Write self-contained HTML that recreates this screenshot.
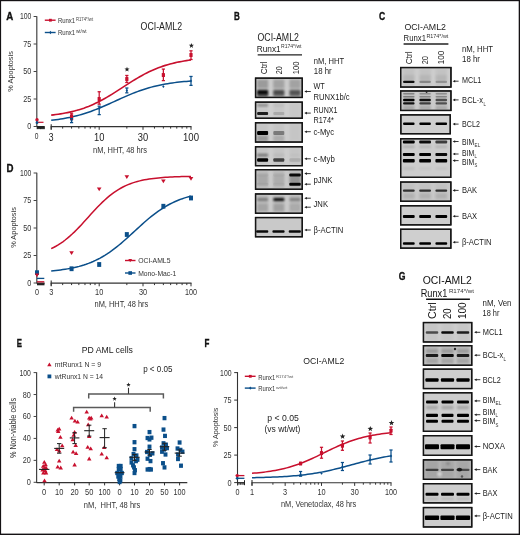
<!DOCTYPE html>
<html><head><meta charset="utf-8"><style>
html,body{margin:0;padding:0;background:#fff;}
svg{display:block;will-change:transform;}
text{font-family:"Liberation Sans", sans-serif;}
</style></head><body>
<svg width="520" height="535" viewBox="0 0 520 535">
<rect x="0" y="0" width="520" height="535" fill="#fff"/>
<defs><filter id="b03" x="-20%" y="-50%" width="140%" height="200%"><feGaussianBlur stdDeviation="0.35"/></filter><filter id="b05" x="-20%" y="-50%" width="140%" height="200%"><feGaussianBlur stdDeviation="0.5"/></filter><filter id="b08" x="-20%" y="-50%" width="140%" height="200%"><feGaussianBlur stdDeviation="0.8"/></filter><filter id="b12" x="-20%" y="-50%" width="140%" height="200%"><feGaussianBlur stdDeviation="1.2"/></filter><filter id="b20" x="-20%" y="-50%" width="140%" height="200%"><feGaussianBlur stdDeviation="2.0"/></filter></defs>
<text x="6.30" y="19.72" font-size="10.5" text-anchor="start" font-weight="bold" fill="#111" textLength="7.00" lengthAdjust="spacingAndGlyphs" stroke="#111" stroke-width="0.35">A</text>
<line x1="36.80" y1="16.20" x2="36.80" y2="126.90" stroke="#444" stroke-width="1.2"/>
<line x1="33.60" y1="126.50" x2="36.80" y2="126.50" stroke="#444" stroke-width="1"/>
<text x="31.40" y="129.47" font-size="8.6" text-anchor="end" font-weight="normal" fill="#333" textLength="4.10" lengthAdjust="spacingAndGlyphs">0</text>
<line x1="33.60" y1="99.00" x2="36.80" y2="99.00" stroke="#444" stroke-width="1"/>
<text x="31.40" y="101.97" font-size="8.6" text-anchor="end" font-weight="normal" fill="#333" textLength="8.10" lengthAdjust="spacingAndGlyphs">25</text>
<line x1="33.60" y1="71.50" x2="36.80" y2="71.50" stroke="#444" stroke-width="1"/>
<text x="31.40" y="74.47" font-size="8.6" text-anchor="end" font-weight="normal" fill="#333" textLength="8.10" lengthAdjust="spacingAndGlyphs">50</text>
<line x1="33.60" y1="44.00" x2="36.80" y2="44.00" stroke="#444" stroke-width="1"/>
<text x="31.40" y="46.97" font-size="8.6" text-anchor="end" font-weight="normal" fill="#333" textLength="8.10" lengthAdjust="spacingAndGlyphs">75</text>
<line x1="33.60" y1="16.50" x2="36.80" y2="16.50" stroke="#444" stroke-width="1"/>
<text x="31.40" y="19.47" font-size="8.6" text-anchor="end" font-weight="normal" fill="#333" textLength="11.50" lengthAdjust="spacingAndGlyphs">100</text>
<text x="10.60" y="73.95" font-size="7.4" text-anchor="middle" font-weight="normal" fill="#333" textLength="40.50" lengthAdjust="spacingAndGlyphs" transform="rotate(-90 10.60 71.40)">% Apoptosis</text>
<line x1="50.70" y1="126.60" x2="191.50" y2="126.60" stroke="#333" stroke-width="1.1"/>
<line x1="51.20" y1="126.60" x2="51.20" y2="129.80" stroke="#333" stroke-width="1"/>
<line x1="62.67" y1="126.60" x2="62.67" y2="128.60" stroke="#333" stroke-width="1"/>
<line x1="71.57" y1="126.60" x2="71.57" y2="128.60" stroke="#333" stroke-width="1"/>
<line x1="78.83" y1="126.60" x2="78.83" y2="128.60" stroke="#333" stroke-width="1"/>
<line x1="84.98" y1="126.60" x2="84.98" y2="128.60" stroke="#333" stroke-width="1"/>
<line x1="90.30" y1="126.60" x2="90.30" y2="128.60" stroke="#333" stroke-width="1"/>
<line x1="95.00" y1="126.60" x2="95.00" y2="128.60" stroke="#333" stroke-width="1"/>
<line x1="99.20" y1="126.60" x2="99.20" y2="129.80" stroke="#333" stroke-width="1"/>
<line x1="126.83" y1="126.60" x2="126.83" y2="128.60" stroke="#333" stroke-width="1"/>
<line x1="143.00" y1="126.60" x2="143.00" y2="129.80" stroke="#333" stroke-width="1"/>
<line x1="154.47" y1="126.60" x2="154.47" y2="128.60" stroke="#333" stroke-width="1"/>
<line x1="163.37" y1="126.60" x2="163.37" y2="128.60" stroke="#333" stroke-width="1"/>
<line x1="170.63" y1="126.60" x2="170.63" y2="128.60" stroke="#333" stroke-width="1"/>
<line x1="176.78" y1="126.60" x2="176.78" y2="128.60" stroke="#333" stroke-width="1"/>
<line x1="182.10" y1="126.60" x2="182.10" y2="128.60" stroke="#333" stroke-width="1"/>
<line x1="186.80" y1="126.60" x2="186.80" y2="128.60" stroke="#333" stroke-width="1"/>
<line x1="191.00" y1="126.60" x2="191.00" y2="129.80" stroke="#333" stroke-width="1"/>
<line x1="36.80" y1="126.60" x2="44.60" y2="126.60" stroke="#222" stroke-width="1.2"/>
<line x1="37.20" y1="126.60" x2="37.20" y2="129.20" stroke="#222" stroke-width="1"/>
<line x1="39.00" y1="126.60" x2="39.00" y2="129.20" stroke="#222" stroke-width="1"/>
<line x1="40.50" y1="126.60" x2="40.50" y2="129.20" stroke="#222" stroke-width="1"/>
<line x1="41.80" y1="126.60" x2="41.80" y2="129.20" stroke="#222" stroke-width="1"/>
<line x1="43.00" y1="126.60" x2="43.00" y2="129.20" stroke="#222" stroke-width="1"/>
<line x1="44.20" y1="126.60" x2="44.20" y2="129.20" stroke="#222" stroke-width="1"/>
<rect x="37.00" y="126.60" width="7.50" height="2.20" fill="#222"/>
<line x1="51.20" y1="124.20" x2="51.20" y2="129.50" stroke="#333" stroke-width="1.1"/>
<text x="36.70" y="139.17" font-size="8.6" text-anchor="middle" font-weight="normal" fill="#333" textLength="3.70" lengthAdjust="spacingAndGlyphs">0</text>
<text x="51.20" y="141.29" font-size="11.0" text-anchor="middle" font-weight="normal" fill="#222" textLength="4.80" lengthAdjust="spacingAndGlyphs">3</text>
<text x="99.20" y="141.29" font-size="11.0" text-anchor="middle" font-weight="normal" fill="#222" textLength="10.40" lengthAdjust="spacingAndGlyphs">10</text>
<text x="143.00" y="141.29" font-size="11.0" text-anchor="middle" font-weight="normal" fill="#222" textLength="10.40" lengthAdjust="spacingAndGlyphs">30</text>
<text x="191.00" y="141.29" font-size="11.0" text-anchor="middle" font-weight="normal" fill="#222" textLength="16.00" lengthAdjust="spacingAndGlyphs">100</text>
<text x="120.00" y="153.44" font-size="8.8" text-anchor="middle" font-weight="normal" fill="#333" textLength="54.00" lengthAdjust="spacingAndGlyphs">nM, HHT, 48 hrs</text>
<text x="161.30" y="29.85" font-size="10.3" text-anchor="middle" font-weight="normal" fill="#222" textLength="41.50" lengthAdjust="spacingAndGlyphs">OCI-AML2</text>
<line x1="44.80" y1="20.20" x2="55.60" y2="20.20" stroke="#c8102e" stroke-width="1.4"/>
<rect x="49.00" y="18.80" width="2.80" height="2.80" fill="#c8102e"/>
<text x="57.90" y="22.91" font-size="7.0" text-anchor="start" font-weight="normal" fill="#333" textLength="17.30" lengthAdjust="spacingAndGlyphs">Runx1</text>
<text x="75.90" y="20.65" font-size="4.5" text-anchor="start" font-weight="normal" fill="#444" textLength="17.20" lengthAdjust="spacingAndGlyphs">R174*/wt</text>
<line x1="44.80" y1="32.50" x2="55.60" y2="32.50" stroke="#0b4f8a" stroke-width="1.4"/>
<path d="M50.4,30.8 L51.6,32.5 L50.4,34.2 L49.2,32.5Z" fill="#0b4f8a"/>
<text x="57.90" y="35.12" font-size="7.0" text-anchor="start" font-weight="normal" fill="#333" textLength="17.30" lengthAdjust="spacingAndGlyphs">Runx1</text>
<text x="75.90" y="32.95" font-size="4.5" text-anchor="start" font-weight="normal" fill="#444" textLength="10.80" lengthAdjust="spacingAndGlyphs">wt/wt</text>
<path d="M51.20,115.16 L53.53,114.88 L55.86,114.58 L58.19,114.25 L60.52,113.90 L62.85,113.51 L65.18,113.08 L67.51,112.62 L69.84,112.12 L72.17,111.57 L74.50,110.98 L76.83,110.35 L79.16,109.66 L81.49,108.92 L83.82,108.14 L86.15,107.29 L88.48,106.39 L90.81,105.43 L93.14,104.41 L95.47,103.34 L97.80,102.21 L100.13,101.02 L102.46,99.78 L104.79,98.49 L107.12,97.15 L109.45,95.76 L111.78,94.34 L114.11,92.89 L116.44,91.41 L118.77,89.91 L121.10,88.40 L123.43,86.88 L125.76,85.37 L128.09,83.87 L130.42,82.38 L132.75,80.92 L135.08,79.48 L137.41,78.09 L139.74,76.73 L142.07,75.43 L144.40,74.17 L146.73,72.96 L149.06,71.81 L151.39,70.72 L153.72,69.69 L156.05,68.71 L158.38,67.79 L160.71,66.93 L163.04,66.12 L165.37,65.37 L167.70,64.67 L170.03,64.02 L172.36,63.41 L174.69,62.85 L177.02,62.34 L179.35,61.86 L181.68,61.43 L184.01,61.02 L186.34,60.66 L188.67,60.32 L191.00,60.01" stroke="#c8102e" stroke-width="1.6" fill="none"/>
<path d="M51.20,120.32 L53.53,120.05 L55.86,119.75 L58.19,119.43 L60.52,119.08 L62.85,118.71 L65.18,118.30 L67.51,117.86 L69.84,117.39 L72.17,116.88 L74.50,116.33 L76.83,115.75 L79.16,115.13 L81.49,114.47 L83.82,113.77 L86.15,113.03 L88.48,112.25 L90.81,111.43 L93.14,110.57 L95.47,109.67 L97.80,108.75 L100.13,107.79 L102.46,106.80 L104.79,105.79 L107.12,104.76 L109.45,103.71 L111.78,102.65 L114.11,101.58 L116.44,100.51 L118.77,99.45 L121.10,98.39 L123.43,97.35 L125.76,96.32 L128.09,95.32 L130.42,94.34 L132.75,93.39 L135.08,92.48 L137.41,91.60 L139.74,90.76 L142.07,89.95 L144.40,89.19 L146.73,88.46 L149.06,87.77 L151.39,87.13 L153.72,86.52 L156.05,85.95 L158.38,85.42 L160.71,84.93 L163.04,84.47 L165.37,84.04 L167.70,83.65 L170.03,83.28 L172.36,82.94 L174.69,82.63 L177.02,82.34 L179.35,82.08 L181.68,81.84 L184.01,81.61 L186.34,81.41 L188.67,81.22 L191.00,81.05" stroke="#0b4f8a" stroke-width="1.5" fill="none"/>
<line x1="71.57" y1="113.19" x2="71.57" y2="119.46" stroke="#c8102e" stroke-width="1.25"/>
<line x1="69.97" y1="113.19" x2="73.17" y2="113.19" stroke="#c8102e" stroke-width="1.25"/>
<line x1="69.97" y1="119.46" x2="73.17" y2="119.46" stroke="#c8102e" stroke-width="1.25"/>
<rect x="69.97" y="114.27" width="3.2" height="4.0" rx="0.6" fill="#c8102e"/>
<line x1="99.20" y1="91.74" x2="99.20" y2="104.17" stroke="#c8102e" stroke-width="1.25"/>
<line x1="97.60" y1="91.74" x2="100.80" y2="91.74" stroke="#c8102e" stroke-width="1.25"/>
<line x1="97.60" y1="104.17" x2="100.80" y2="104.17" stroke="#c8102e" stroke-width="1.25"/>
<rect x="97.60" y="97.00" width="3.2" height="4.0" rx="0.6" fill="#c8102e"/>
<line x1="126.83" y1="75.46" x2="126.83" y2="82.50" stroke="#c8102e" stroke-width="1.25"/>
<line x1="125.23" y1="75.46" x2="128.43" y2="75.46" stroke="#c8102e" stroke-width="1.25"/>
<line x1="125.23" y1="82.50" x2="128.43" y2="82.50" stroke="#c8102e" stroke-width="1.25"/>
<rect x="125.23" y="76.98" width="3.2" height="4.0" rx="0.6" fill="#c8102e"/>
<line x1="163.37" y1="69.08" x2="163.37" y2="80.63" stroke="#c8102e" stroke-width="1.25"/>
<line x1="161.77" y1="69.08" x2="164.97" y2="69.08" stroke="#c8102e" stroke-width="1.25"/>
<line x1="161.77" y1="80.63" x2="164.97" y2="80.63" stroke="#c8102e" stroke-width="1.25"/>
<rect x="161.77" y="73.02" width="3.2" height="4.0" rx="0.6" fill="#c8102e"/>
<line x1="191.00" y1="50.82" x2="191.00" y2="59.51" stroke="#c8102e" stroke-width="1.25"/>
<line x1="189.40" y1="50.82" x2="192.60" y2="50.82" stroke="#c8102e" stroke-width="1.25"/>
<line x1="189.40" y1="59.51" x2="192.60" y2="59.51" stroke="#c8102e" stroke-width="1.25"/>
<rect x="189.40" y="53.00" width="3.2" height="4.0" rx="0.6" fill="#c8102e"/>
<line x1="71.57" y1="118.58" x2="71.57" y2="122.65" stroke="#0b4f8a" stroke-width="1.25"/>
<line x1="69.97" y1="118.58" x2="73.17" y2="118.58" stroke="#0b4f8a" stroke-width="1.25"/>
<line x1="69.97" y1="122.65" x2="73.17" y2="122.65" stroke="#0b4f8a" stroke-width="1.25"/>
<path d="M71.57,119.27 L72.77,120.67 L71.57,122.07 L70.37,120.67Z" fill="#0b4f8a"/>
<line x1="99.20" y1="106.15" x2="99.20" y2="114.62" stroke="#0b4f8a" stroke-width="1.25"/>
<line x1="97.60" y1="106.15" x2="100.80" y2="106.15" stroke="#0b4f8a" stroke-width="1.25"/>
<line x1="97.60" y1="114.62" x2="100.80" y2="114.62" stroke="#0b4f8a" stroke-width="1.25"/>
<path d="M99.20,106.95 L100.40,108.35 L99.20,109.75 L98.00,108.35Z" fill="#0b4f8a"/>
<line x1="126.83" y1="88.00" x2="126.83" y2="92.84" stroke="#0b4f8a" stroke-width="1.25"/>
<line x1="125.23" y1="88.00" x2="128.43" y2="88.00" stroke="#0b4f8a" stroke-width="1.25"/>
<line x1="125.23" y1="92.84" x2="128.43" y2="92.84" stroke="#0b4f8a" stroke-width="1.25"/>
<path d="M126.83,89.13 L128.03,90.53 L126.83,91.93 L125.63,90.53Z" fill="#0b4f8a"/>
<path d="M163.37,85.17 L164.57,86.57 L163.37,87.97 L162.17,86.57Z" fill="#0b4f8a"/>
<line x1="191.00" y1="76.45" x2="191.00" y2="85.36" stroke="#0b4f8a" stroke-width="1.25"/>
<line x1="189.40" y1="76.45" x2="192.60" y2="76.45" stroke="#0b4f8a" stroke-width="1.25"/>
<line x1="189.40" y1="85.36" x2="192.60" y2="85.36" stroke="#0b4f8a" stroke-width="1.25"/>
<path d="M191.00,79.56 L192.20,80.96 L191.00,82.36 L189.80,80.96Z" fill="#0b4f8a"/>
<circle cx="37" cy="119.7" r="1.7" fill="#c8102e"/>
<line x1="37.00" y1="122.30" x2="43.50" y2="122.30" stroke="#c8102e" stroke-width="1.2"/>
<circle cx="37" cy="122.7" r="1.4" fill="#0b4f8a"/>
<polygon points="127.00,66.70 127.67,68.48 129.57,68.57 128.08,69.75 128.59,71.58 127.00,70.53 125.41,71.58 125.92,69.75 124.43,68.57 126.33,68.48" fill="#222"/>
<polygon points="191.40,43.00 192.07,44.78 193.97,44.87 192.48,46.05 192.99,47.88 191.40,46.83 189.81,47.88 190.32,46.05 188.83,44.87 190.73,44.78" fill="#222"/>
<text x="234.00" y="19.52" font-size="10.5" text-anchor="start" font-weight="bold" fill="#111" textLength="5.80" lengthAdjust="spacingAndGlyphs" stroke="#111" stroke-width="0.35">B</text>
<text x="278.20" y="41.22" font-size="10.2" text-anchor="middle" font-weight="normal" fill="#222" textLength="41.40" lengthAdjust="spacingAndGlyphs">OCI-AML2</text>
<text x="256.70" y="51.57" font-size="9.2" text-anchor="start" font-weight="normal" fill="#222" textLength="24.00" lengthAdjust="spacingAndGlyphs">Runx1</text>
<text x="281.00" y="48.06" font-size="5.4" text-anchor="start" font-weight="normal" fill="#333" textLength="20.50" lengthAdjust="spacingAndGlyphs">R174*/wt</text>
<line x1="257.70" y1="54.80" x2="302.00" y2="54.80" stroke="#222" stroke-width="1.3"/>
<text x="267.04" y="74.3" font-size="8.8" fill="#222" textLength="12.8" lengthAdjust="spacingAndGlyphs" transform="rotate(-90 267.04 74.3)">Ctrl</text>
<text x="282.24" y="74.3" font-size="8.8" fill="#222" textLength="8.0" lengthAdjust="spacingAndGlyphs" transform="rotate(-90 282.24 74.3)">20</text>
<text x="299.14" y="74.3" font-size="8.8" fill="#222" textLength="12.8" lengthAdjust="spacingAndGlyphs" transform="rotate(-90 299.14 74.3)">100</text>
<text x="313.80" y="63.57" font-size="8.6" text-anchor="start" font-weight="normal" fill="#222" textLength="30.40" lengthAdjust="spacingAndGlyphs">nM, HHT</text>
<text x="313.80" y="73.77" font-size="8.6" text-anchor="start" font-weight="normal" fill="#222" textLength="17.90" lengthAdjust="spacingAndGlyphs">18 hr</text>
<rect x="254.90" y="77.50" width="48.00" height="20.60" fill="#151515"/>
<rect x="256.20" y="78.80" width="45.40" height="18.00" fill="#cbcbcb"/>
<rect x="257.10" y="78.80" width="11.00" height="18.00" fill="#9a9a9a" opacity="0.35" filter="url(#b08)"/>
<rect x="273.30" y="78.80" width="11.00" height="18.00" fill="#9a9a9a" opacity="0.35" filter="url(#b08)"/>
<rect x="289.50" y="78.80" width="11.00" height="18.00" fill="#9a9a9a" opacity="0.35" filter="url(#b08)"/>
<svg x="256.20" y="78.80" width="45.40" height="18.00" viewBox="256.20 78.80 45.40 18.00" overflow="hidden">
<rect x="257.10" y="80.00" width="11.00" height="8.00" rx="1.00" fill="#000" opacity="0.16" filter="url(#b12)"/>
<rect x="273.30" y="80.00" width="11.00" height="8.00" rx="1.00" fill="#000" opacity="0.12" filter="url(#b12)"/>
<rect x="289.50" y="80.00" width="11.00" height="8.00" rx="1.00" fill="#000" opacity="0.12" filter="url(#b12)"/>
<rect x="257.10" y="90.10" width="11.00" height="4.60" rx="1.00" fill="#000" opacity="0.95" filter="url(#b08)"/>
<rect x="273.30" y="90.10" width="11.00" height="4.60" rx="1.00" fill="#000" opacity="0.6" filter="url(#b08)"/>
<rect x="289.50" y="90.10" width="11.00" height="4.60" rx="1.00" fill="#000" opacity="0.55" filter="url(#b08)"/>
<rect x="257.10" y="94.05" width="11.00" height="2.50" rx="1.00" fill="#000" opacity="0.6" filter="url(#b08)"/>
<rect x="273.30" y="94.05" width="11.00" height="2.50" rx="1.00" fill="#000" opacity="0.35" filter="url(#b08)"/>
<rect x="289.50" y="94.05" width="11.00" height="2.50" rx="1.00" fill="#000" opacity="0.35" filter="url(#b08)"/>
</svg>
<rect x="255.55" y="78.15" width="46.70" height="19.30" fill="none" stroke="#151515" stroke-width="1.3"/>
<rect x="254.90" y="101.50" width="48.00" height="17.40" fill="#151515"/>
<rect x="256.20" y="102.80" width="45.40" height="14.80" fill="#cfcfcf"/>
<rect x="257.10" y="102.80" width="11.00" height="14.80" fill="#a8a8a8" opacity="0.2" filter="url(#b08)"/>
<rect x="273.30" y="102.80" width="11.00" height="14.80" fill="#a8a8a8" opacity="0.2" filter="url(#b08)"/>
<rect x="289.50" y="102.80" width="11.00" height="14.80" fill="#a8a8a8" opacity="0.2" filter="url(#b08)"/>
<svg x="256.20" y="102.80" width="45.40" height="14.80" viewBox="256.20 102.80 45.40 14.80" overflow="hidden">
<rect x="257.10" y="104.05" width="11.00" height="2.50" rx="1.00" fill="#000" opacity="0.3" filter="url(#b08)"/>
<rect x="273.30" y="104.05" width="11.00" height="2.50" rx="1.00" fill="#000" opacity="0.05" filter="url(#b08)"/>
<rect x="257.10" y="111.90" width="11.00" height="3.00" rx="1.00" fill="#000" opacity="0.85" filter="url(#b05)"/>
<rect x="273.30" y="111.90" width="11.00" height="3.00" rx="1.00" fill="#000" opacity="0.15" filter="url(#b05)"/>
</svg>
<rect x="255.55" y="102.15" width="46.70" height="16.10" fill="none" stroke="#151515" stroke-width="1.3"/>
<rect x="254.90" y="122.10" width="48.00" height="20.60" fill="#151515"/>
<rect x="256.20" y="123.40" width="45.40" height="18.00" fill="#cdcdcd"/>
<rect x="257.10" y="123.40" width="11.00" height="18.00" fill="#a8a8a8" opacity="0.2" filter="url(#b08)"/>
<rect x="273.30" y="123.40" width="11.00" height="18.00" fill="#a8a8a8" opacity="0.2" filter="url(#b08)"/>
<rect x="289.50" y="123.40" width="11.00" height="18.00" fill="#a8a8a8" opacity="0.2" filter="url(#b08)"/>
<svg x="256.20" y="123.40" width="45.40" height="18.00" viewBox="256.20 123.40 45.40 18.00" overflow="hidden">
<rect x="257.10" y="131.10" width="11.00" height="3.80" rx="1.00" fill="#000" opacity="1.0" filter="url(#b05)"/>
<rect x="273.30" y="131.10" width="11.00" height="3.80" rx="1.00" fill="#000" opacity="0.38" filter="url(#b05)"/>
<rect x="257.10" y="135.50" width="11.00" height="6.00" rx="1.00" fill="#000" opacity="0.22" filter="url(#b12)"/>
<rect x="273.30" y="135.50" width="11.00" height="6.00" rx="1.00" fill="#000" opacity="0.12" filter="url(#b12)"/>
</svg>
<rect x="255.55" y="122.75" width="46.70" height="19.30" fill="none" stroke="#151515" stroke-width="1.3"/>
<rect x="254.90" y="146.10" width="48.00" height="20.20" fill="#151515"/>
<rect x="256.20" y="147.40" width="45.40" height="17.60" fill="#cdcdcd"/>
<rect x="257.10" y="147.40" width="11.00" height="17.60" fill="#a8a8a8" opacity="0.2" filter="url(#b08)"/>
<rect x="273.30" y="147.40" width="11.00" height="17.60" fill="#a8a8a8" opacity="0.2" filter="url(#b08)"/>
<rect x="289.50" y="147.40" width="11.00" height="17.60" fill="#a8a8a8" opacity="0.2" filter="url(#b08)"/>
<svg x="256.20" y="147.40" width="45.40" height="17.60" viewBox="256.20 147.40 45.40 17.60" overflow="hidden">
<rect x="257.10" y="153.80" width="11.00" height="2.60" rx="1.00" fill="#000" opacity="0.4" filter="url(#b08)"/>
<rect x="273.30" y="153.80" width="11.00" height="2.60" rx="1.00" fill="#000" opacity="0.06" filter="url(#b08)"/>
<rect x="289.50" y="153.80" width="11.00" height="2.60" rx="1.00" fill="#000" opacity="0.02" filter="url(#b08)"/>
<rect x="257.10" y="158.30" width="11.00" height="3.40" rx="1.00" fill="#000" opacity="1.0" filter="url(#b05)"/>
<rect x="273.30" y="158.30" width="11.00" height="3.40" rx="1.00" fill="#000" opacity="0.68" filter="url(#b05)"/>
<rect x="289.50" y="158.30" width="11.00" height="3.40" rx="1.00" fill="#000" opacity="0.12" filter="url(#b05)"/>
</svg>
<rect x="255.55" y="146.75" width="46.70" height="18.90" fill="none" stroke="#151515" stroke-width="1.3"/>
<rect x="254.90" y="169.00" width="48.00" height="20.90" fill="#151515"/>
<rect x="256.20" y="170.30" width="45.40" height="18.30" fill="#c9c9c9"/>
<rect x="257.10" y="170.30" width="11.00" height="18.30" fill="#999" opacity="0.35" filter="url(#b08)"/>
<rect x="273.30" y="170.30" width="11.00" height="18.30" fill="#999" opacity="0.35" filter="url(#b08)"/>
<rect x="289.50" y="170.30" width="11.00" height="18.30" fill="#999" opacity="0.35" filter="url(#b08)"/>
<svg x="256.20" y="170.30" width="45.40" height="18.30" viewBox="256.20 170.30 45.40 18.30" overflow="hidden">
<rect x="256.85" y="173.50" width="11.50" height="3.00" rx="1.00" fill="#000" opacity="0.06" filter="url(#b05)"/>
<rect x="273.05" y="173.50" width="11.50" height="3.00" rx="1.00" fill="#000" opacity="0.05" filter="url(#b05)"/>
<rect x="289.25" y="173.50" width="11.50" height="3.00" rx="1.00" fill="#000" opacity="0.95" filter="url(#b05)"/>
<rect x="256.85" y="182.80" width="11.50" height="3.00" rx="1.00" fill="#000" opacity="0.08" filter="url(#b05)"/>
<rect x="273.05" y="182.80" width="11.50" height="3.00" rx="1.00" fill="#000" opacity="0.06" filter="url(#b05)"/>
<rect x="289.25" y="182.80" width="11.50" height="3.00" rx="1.00" fill="#000" opacity="0.98" filter="url(#b05)"/>
<rect x="257.10" y="175.60" width="11.00" height="8.00" rx="1.00" fill="#000" opacity="0.08" filter="url(#b12)"/>
<rect x="273.30" y="175.60" width="11.00" height="8.00" rx="1.00" fill="#000" opacity="0.06" filter="url(#b12)"/>
<rect x="289.50" y="175.60" width="11.00" height="8.00" rx="1.00" fill="#000" opacity="0.2" filter="url(#b12)"/>
</svg>
<rect x="255.55" y="169.65" width="46.70" height="19.60" fill="none" stroke="#151515" stroke-width="1.3"/>
<rect x="254.90" y="193.30" width="48.00" height="20.60" fill="#151515"/>
<rect x="256.20" y="194.60" width="45.40" height="18.00" fill="#cacaca"/>
<rect x="257.10" y="194.60" width="11.00" height="18.00" fill="#999" opacity="0.35" filter="url(#b08)"/>
<rect x="273.30" y="194.60" width="11.00" height="18.00" fill="#999" opacity="0.35" filter="url(#b08)"/>
<rect x="289.50" y="194.60" width="11.00" height="18.00" fill="#999" opacity="0.35" filter="url(#b08)"/>
<svg x="256.20" y="194.60" width="45.40" height="18.00" viewBox="256.20 194.60 45.40 18.00" overflow="hidden">
<rect x="257.10" y="198.10" width="11.00" height="3.00" rx="1.00" fill="#000" opacity="0.32" filter="url(#b08)"/>
<rect x="273.30" y="198.10" width="11.00" height="3.00" rx="1.00" fill="#000" opacity="0.95" filter="url(#b08)"/>
<rect x="289.50" y="198.10" width="11.00" height="3.00" rx="1.00" fill="#000" opacity="0.3" filter="url(#b08)"/>
<rect x="257.10" y="204.00" width="11.00" height="7.00" rx="1.00" fill="#000" opacity="0.1" filter="url(#b12)"/>
<rect x="273.30" y="204.00" width="11.00" height="7.00" rx="1.00" fill="#000" opacity="0.12" filter="url(#b12)"/>
<rect x="289.50" y="204.00" width="11.00" height="7.00" rx="1.00" fill="#000" opacity="0.07" filter="url(#b12)"/>
</svg>
<rect x="255.55" y="193.95" width="46.70" height="19.30" fill="none" stroke="#151515" stroke-width="1.3"/>
<rect x="254.90" y="216.90" width="48.00" height="20.50" fill="#151515"/>
<rect x="256.20" y="218.20" width="45.40" height="17.90" fill="#c9c9c9"/>
<svg x="256.20" y="218.20" width="45.40" height="17.90" viewBox="256.20 218.20 45.40 17.90" overflow="hidden">
<rect x="256.10" y="230.35" width="12.20" height="2.30" rx="1.00" fill="#000" opacity="0.95" filter="url(#b03)"/>
<rect x="272.40" y="230.35" width="12.20" height="2.30" rx="1.00" fill="#000" opacity="0.95" filter="url(#b03)"/>
<rect x="288.70" y="230.35" width="12.20" height="2.30" rx="1.00" fill="#000" opacity="0.95" filter="url(#b03)"/>
</svg>
<rect x="255.55" y="217.55" width="46.70" height="19.20" fill="none" stroke="#151515" stroke-width="1.3"/>
<line x1="305.80" y1="91.50" x2="310.80" y2="91.50" stroke="#222" stroke-width="0.9"/>
<path d="M304.30,91.50 L306.90,90.20 L306.90,92.80Z" fill="#222"/>
<line x1="305.80" y1="113.10" x2="310.80" y2="113.10" stroke="#222" stroke-width="0.9"/>
<path d="M304.30,113.10 L306.90,111.80 L306.90,114.40Z" fill="#222"/>
<line x1="305.80" y1="131.70" x2="310.80" y2="131.70" stroke="#222" stroke-width="0.9"/>
<path d="M304.30,131.70 L306.90,130.40 L306.90,133.00Z" fill="#222"/>
<line x1="305.80" y1="158.80" x2="310.80" y2="158.80" stroke="#222" stroke-width="0.9"/>
<path d="M304.30,158.80 L306.90,157.50 L306.90,160.10Z" fill="#222"/>
<line x1="305.80" y1="173.60" x2="310.80" y2="173.60" stroke="#222" stroke-width="0.9"/>
<path d="M304.30,173.60 L306.90,172.30 L306.90,174.90Z" fill="#222"/>
<line x1="305.80" y1="184.20" x2="310.80" y2="184.20" stroke="#222" stroke-width="0.9"/>
<path d="M304.30,184.20 L306.90,182.90 L306.90,185.50Z" fill="#222"/>
<line x1="305.80" y1="198.20" x2="310.80" y2="198.20" stroke="#222" stroke-width="0.9"/>
<path d="M304.30,198.20 L306.90,196.90 L306.90,199.50Z" fill="#222"/>
<line x1="305.80" y1="207.20" x2="310.80" y2="207.20" stroke="#222" stroke-width="0.9"/>
<path d="M304.30,207.20 L306.90,205.90 L306.90,208.50Z" fill="#222"/>
<line x1="305.80" y1="230.00" x2="310.80" y2="230.00" stroke="#222" stroke-width="0.9"/>
<path d="M304.30,230.00 L306.90,228.70 L306.90,231.30Z" fill="#222"/>
<text x="313.50" y="89.40" font-size="8.4" text-anchor="start" font-weight="normal" fill="#222" textLength="11.30" lengthAdjust="spacingAndGlyphs">WT</text>
<text x="313.50" y="100.00" font-size="8.4" text-anchor="start" font-weight="normal" fill="#222" textLength="36.10" lengthAdjust="spacingAndGlyphs">RUNX1b/c</text>
<text x="313.50" y="112.90" font-size="8.4" text-anchor="start" font-weight="normal" fill="#222" textLength="24.00" lengthAdjust="spacingAndGlyphs">RUNX1</text>
<text x="313.50" y="122.90" font-size="8.4" text-anchor="start" font-weight="normal" fill="#222" textLength="20.30" lengthAdjust="spacingAndGlyphs">R174*</text>
<text x="313.50" y="134.60" font-size="8.4" text-anchor="start" font-weight="normal" fill="#222" textLength="20.60" lengthAdjust="spacingAndGlyphs">c-Myc</text>
<text x="313.50" y="162.20" font-size="8.4" text-anchor="start" font-weight="normal" fill="#222" textLength="21.30" lengthAdjust="spacingAndGlyphs">c-Myb</text>
<text x="313.50" y="183.00" font-size="8.4" text-anchor="start" font-weight="normal" fill="#222" textLength="19.00" lengthAdjust="spacingAndGlyphs">pJNK</text>
<text x="313.50" y="206.60" font-size="8.4" text-anchor="start" font-weight="normal" fill="#222" textLength="14.50" lengthAdjust="spacingAndGlyphs">JNK</text>
<text x="313.50" y="232.90" font-size="8.4" text-anchor="start" font-weight="normal" fill="#222" textLength="29.80" lengthAdjust="spacingAndGlyphs">&#946;-ACTIN</text>
<text x="379.10" y="19.52" font-size="10.5" text-anchor="start" font-weight="bold" fill="#111" textLength="6.20" lengthAdjust="spacingAndGlyphs" stroke="#111" stroke-width="0.35">C</text>
<text x="425.20" y="30.01" font-size="9.6" text-anchor="middle" font-weight="normal" fill="#222" textLength="41.60" lengthAdjust="spacingAndGlyphs">OCI-AML2</text>
<text x="403.60" y="41.24" font-size="8.8" text-anchor="start" font-weight="normal" fill="#222" textLength="22.40" lengthAdjust="spacingAndGlyphs">Runx1</text>
<text x="426.40" y="37.79" font-size="5.2" text-anchor="start" font-weight="normal" fill="#333" textLength="22.00" lengthAdjust="spacingAndGlyphs">R174*/wt</text>
<line x1="403.60" y1="44.00" x2="448.40" y2="44.00" stroke="#222" stroke-width="1.3"/>
<text x="412.17" y="64.3" font-size="8.6" fill="#222" textLength="13.0" lengthAdjust="spacingAndGlyphs" transform="rotate(-90 412.17 64.3)">Ctrl</text>
<text x="427.97" y="64.3" font-size="8.6" fill="#222" textLength="8.3" lengthAdjust="spacingAndGlyphs" transform="rotate(-90 427.97 64.3)">20</text>
<text x="444.27" y="64.3" font-size="8.6" fill="#222" textLength="13.4" lengthAdjust="spacingAndGlyphs" transform="rotate(-90 444.27 64.3)">100</text>
<text x="462.00" y="51.97" font-size="8.6" text-anchor="start" font-weight="normal" fill="#222" textLength="31.00" lengthAdjust="spacingAndGlyphs">nM, HHT</text>
<text x="462.00" y="61.57" font-size="8.6" text-anchor="start" font-weight="normal" fill="#222" textLength="18.00" lengthAdjust="spacingAndGlyphs">18 hr</text>
<rect x="400.00" y="66.90" width="51.60" height="20.80" fill="#151515"/>
<rect x="401.30" y="68.20" width="49.00" height="18.20" fill="#cdcdcd"/>
<rect x="403.05" y="68.20" width="11.50" height="18.20" fill="#a5a5a5" opacity="0.25" filter="url(#b08)"/>
<rect x="419.35" y="68.20" width="11.50" height="18.20" fill="#a5a5a5" opacity="0.25" filter="url(#b08)"/>
<rect x="435.55" y="68.20" width="11.50" height="18.20" fill="#a5a5a5" opacity="0.25" filter="url(#b08)"/>
<svg x="401.30" y="68.20" width="49.00" height="18.20" viewBox="401.30 68.20 49.00 18.20" overflow="hidden">
<rect x="403.05" y="80.75" width="11.50" height="2.30" rx="1.00" fill="#000" opacity="0.92" filter="url(#b05)"/>
<rect x="419.35" y="80.75" width="11.50" height="2.30" rx="1.00" fill="#000" opacity="0.3" filter="url(#b05)"/>
<rect x="435.55" y="80.75" width="11.50" height="2.30" rx="1.00" fill="#000" opacity="0.24" filter="url(#b05)"/>
<rect x="403.05" y="75.00" width="11.50" height="6.00" rx="1.00" fill="#000" opacity="0.06" filter="url(#b12)"/>
<rect x="419.35" y="75.00" width="11.50" height="6.00" rx="1.00" fill="#000" opacity="0.06" filter="url(#b12)"/>
<rect x="435.55" y="75.00" width="11.50" height="6.00" rx="1.00" fill="#000" opacity="0.06" filter="url(#b12)"/>
</svg>
<rect x="400.65" y="67.55" width="50.30" height="19.50" fill="none" stroke="#151515" stroke-width="1.3"/>
<rect x="400.00" y="90.30" width="51.60" height="20.80" fill="#151515"/>
<rect x="401.30" y="91.60" width="49.00" height="18.20" fill="#cbcbcb"/>
<rect x="403.05" y="91.60" width="11.50" height="18.20" fill="#999" opacity="0.25" filter="url(#b08)"/>
<rect x="419.35" y="91.60" width="11.50" height="18.20" fill="#999" opacity="0.25" filter="url(#b08)"/>
<rect x="435.55" y="91.60" width="11.50" height="18.20" fill="#999" opacity="0.25" filter="url(#b08)"/>
<svg x="401.30" y="91.60" width="49.00" height="18.20" viewBox="401.30 91.60 49.00 18.20" overflow="hidden">
<rect x="403.05" y="93.00" width="11.50" height="1.60" rx="0.80" fill="#000" opacity="0.3" filter="url(#b05)"/>
<rect x="419.35" y="93.00" width="11.50" height="1.60" rx="0.80" fill="#000" opacity="0.25" filter="url(#b05)"/>
<rect x="435.55" y="93.00" width="11.50" height="1.60" rx="0.80" fill="#000" opacity="0.25" filter="url(#b05)"/>
<rect x="403.05" y="95.90" width="11.50" height="1.60" rx="0.80" fill="#000" opacity="0.35" filter="url(#b05)"/>
<rect x="419.35" y="95.90" width="11.50" height="1.60" rx="0.80" fill="#000" opacity="0.3" filter="url(#b05)"/>
<rect x="435.55" y="95.90" width="11.50" height="1.60" rx="0.80" fill="#000" opacity="0.3" filter="url(#b05)"/>
<rect x="403.05" y="98.75" width="11.50" height="2.50" rx="1.00" fill="#000" opacity="1.0" filter="url(#b03)"/>
<rect x="419.35" y="98.75" width="11.50" height="2.50" rx="1.00" fill="#000" opacity="0.92" filter="url(#b03)"/>
<rect x="435.55" y="98.75" width="11.50" height="2.50" rx="1.00" fill="#000" opacity="0.6" filter="url(#b03)"/>
<rect x="403.05" y="102.20" width="11.50" height="2.20" rx="1.00" fill="#000" opacity="0.9" filter="url(#b03)"/>
<rect x="419.35" y="102.20" width="11.50" height="2.20" rx="1.00" fill="#000" opacity="0.68" filter="url(#b03)"/>
<rect x="435.55" y="102.20" width="11.50" height="2.20" rx="1.00" fill="#000" opacity="0.58" filter="url(#b03)"/>
<rect x="403.05" y="106.00" width="11.50" height="4.00" rx="1.00" fill="#000" opacity="0.12" filter="url(#b12)"/>
<rect x="419.35" y="106.00" width="11.50" height="4.00" rx="1.00" fill="#000" opacity="0.1" filter="url(#b12)"/>
<rect x="435.55" y="106.00" width="11.50" height="4.00" rx="1.00" fill="#000" opacity="0.1" filter="url(#b12)"/>
</svg>
<rect x="400.65" y="90.95" width="50.30" height="19.50" fill="none" stroke="#151515" stroke-width="1.3"/>
<circle cx="426.6" cy="92.0" r="0.9" fill="#222" filter="url(#b03)"/>
<rect x="400.20" y="114.20" width="50.70" height="20.20" fill="#151515"/>
<rect x="401.50" y="115.50" width="48.10" height="17.60" fill="#cfcfcf"/>
<svg x="401.50" y="115.50" width="48.10" height="17.60" viewBox="401.50 115.50 48.10 17.60" overflow="hidden">
<rect x="403.05" y="122.50" width="11.50" height="2.60" rx="1.00" fill="#000" opacity="1.0" filter="url(#b05)"/>
<rect x="419.35" y="122.50" width="11.50" height="2.60" rx="1.00" fill="#000" opacity="1.0" filter="url(#b05)"/>
<rect x="435.55" y="122.50" width="11.50" height="2.60" rx="1.00" fill="#000" opacity="1.0" filter="url(#b05)"/>
</svg>
<rect x="400.85" y="114.85" width="49.40" height="18.90" fill="none" stroke="#151515" stroke-width="1.3"/>
<rect x="400.00" y="138.10" width="51.40" height="39.90" fill="#151515"/>
<rect x="401.30" y="139.40" width="48.80" height="37.30" fill="#cdcdcd"/>
<svg x="401.30" y="139.40" width="48.80" height="37.30" viewBox="401.30 139.40 48.80 37.30" overflow="hidden">
<rect x="402.90" y="140.60" width="11.80" height="3.00" rx="1.00" fill="#000" opacity="1.0" filter="url(#b05)"/>
<rect x="419.20" y="140.60" width="11.80" height="3.00" rx="1.00" fill="#000" opacity="0.95" filter="url(#b05)"/>
<rect x="435.40" y="140.60" width="11.80" height="3.00" rx="1.00" fill="#000" opacity="0.7" filter="url(#b05)"/>
<rect x="402.90" y="145.55" width="11.80" height="2.50" rx="1.00" fill="#000" opacity="0.15" filter="url(#b08)"/>
<rect x="419.20" y="145.55" width="11.80" height="2.50" rx="1.00" fill="#000" opacity="0.12" filter="url(#b08)"/>
<rect x="435.40" y="145.55" width="11.80" height="2.50" rx="1.00" fill="#000" opacity="0.12" filter="url(#b08)"/>
<rect x="402.90" y="152.90" width="11.80" height="3.00" rx="1.00" fill="#000" opacity="1.0" filter="url(#b05)"/>
<rect x="419.20" y="152.90" width="11.80" height="3.00" rx="1.00" fill="#000" opacity="1.0" filter="url(#b05)"/>
<rect x="435.40" y="152.90" width="11.80" height="3.00" rx="1.00" fill="#000" opacity="0.95" filter="url(#b05)"/>
<rect x="402.90" y="159.10" width="11.80" height="3.40" rx="1.00" fill="#000" opacity="1.0" filter="url(#b05)"/>
<rect x="419.20" y="159.10" width="11.80" height="3.40" rx="1.00" fill="#000" opacity="1.0" filter="url(#b05)"/>
<rect x="435.40" y="159.10" width="11.80" height="3.40" rx="1.00" fill="#000" opacity="1.0" filter="url(#b05)"/>
<rect x="402.90" y="167.00" width="11.80" height="3.00" rx="1.00" fill="#000" opacity="0.06" filter="url(#b12)"/>
<rect x="419.20" y="167.00" width="11.80" height="3.00" rx="1.00" fill="#000" opacity="0.04" filter="url(#b12)"/>
<rect x="435.40" y="167.00" width="11.80" height="3.00" rx="1.00" fill="#000" opacity="0.04" filter="url(#b12)"/>
</svg>
<rect x="400.65" y="138.75" width="50.10" height="38.60" fill="none" stroke="#151515" stroke-width="1.3"/>
<rect x="400.00" y="181.40" width="51.50" height="20.50" fill="#151515"/>
<rect x="401.30" y="182.70" width="48.90" height="17.90" fill="#c8c8c8"/>
<rect x="402.90" y="182.70" width="11.80" height="17.90" fill="#aaa" opacity="0.2" filter="url(#b08)"/>
<rect x="419.20" y="182.70" width="11.80" height="17.90" fill="#aaa" opacity="0.2" filter="url(#b08)"/>
<rect x="435.40" y="182.70" width="11.80" height="17.90" fill="#aaa" opacity="0.2" filter="url(#b08)"/>
<svg x="401.30" y="182.70" width="48.90" height="17.90" viewBox="401.30 182.70 48.90 17.90" overflow="hidden">
<rect x="402.90" y="189.45" width="11.80" height="2.30" rx="1.00" fill="#000" opacity="0.75" filter="url(#b05)"/>
<rect x="419.20" y="189.45" width="11.80" height="2.30" rx="1.00" fill="#000" opacity="0.75" filter="url(#b05)"/>
<rect x="435.40" y="189.45" width="11.80" height="2.30" rx="1.00" fill="#000" opacity="0.75" filter="url(#b05)"/>
<rect x="402.90" y="193.50" width="11.80" height="5.00" rx="1.00" fill="#000" opacity="0.08" filter="url(#b12)"/>
<rect x="419.20" y="193.50" width="11.80" height="5.00" rx="1.00" fill="#000" opacity="0.08" filter="url(#b12)"/>
<rect x="435.40" y="193.50" width="11.80" height="5.00" rx="1.00" fill="#000" opacity="0.08" filter="url(#b12)"/>
</svg>
<rect x="400.65" y="182.05" width="50.20" height="19.20" fill="none" stroke="#151515" stroke-width="1.3"/>
<rect x="400.00" y="205.10" width="51.50" height="20.40" fill="#151515"/>
<rect x="401.30" y="206.40" width="48.90" height="17.80" fill="#cdcdcd"/>
<svg x="401.30" y="206.40" width="48.90" height="17.80" viewBox="401.30 206.40 48.90 17.80" overflow="hidden">
<rect x="402.90" y="214.90" width="11.80" height="3.00" rx="1.00" fill="#000" opacity="1.0" filter="url(#b05)"/>
<rect x="419.20" y="214.90" width="11.80" height="3.00" rx="1.00" fill="#000" opacity="1.0" filter="url(#b05)"/>
<rect x="435.40" y="214.90" width="11.80" height="3.00" rx="1.00" fill="#000" opacity="1.0" filter="url(#b05)"/>
</svg>
<rect x="400.65" y="205.75" width="50.20" height="19.10" fill="none" stroke="#151515" stroke-width="1.3"/>
<rect x="400.00" y="228.60" width="51.50" height="20.20" fill="#151515"/>
<rect x="401.30" y="229.90" width="48.90" height="17.60" fill="#cfcfcf"/>
<svg x="401.30" y="229.90" width="48.90" height="17.60" viewBox="401.30 229.90 48.90 17.60" overflow="hidden">
<rect x="402.90" y="242.20" width="11.80" height="2.60" rx="1.00" fill="#000" opacity="1.0" filter="url(#b05)"/>
<rect x="419.20" y="242.20" width="11.80" height="2.60" rx="1.00" fill="#000" opacity="1.0" filter="url(#b05)"/>
<rect x="435.40" y="242.20" width="11.80" height="2.60" rx="1.00" fill="#000" opacity="1.0" filter="url(#b05)"/>
</svg>
<rect x="400.65" y="229.25" width="50.20" height="18.90" fill="none" stroke="#151515" stroke-width="1.3"/>
<line x1="454.10" y1="81.20" x2="458.60" y2="81.20" stroke="#222" stroke-width="0.9"/>
<path d="M452.60,81.20 L455.20,79.90 L455.20,82.50Z" fill="#222"/>
<line x1="454.10" y1="99.90" x2="458.60" y2="99.90" stroke="#222" stroke-width="0.9"/>
<path d="M452.60,99.90 L455.20,98.60 L455.20,101.20Z" fill="#222"/>
<line x1="454.10" y1="124.10" x2="458.60" y2="124.10" stroke="#222" stroke-width="0.9"/>
<path d="M452.60,124.10 L455.20,122.80 L455.20,125.40Z" fill="#222"/>
<line x1="454.10" y1="141.50" x2="458.60" y2="141.50" stroke="#222" stroke-width="0.9"/>
<path d="M452.60,141.50 L455.20,140.20 L455.20,142.80Z" fill="#222"/>
<line x1="454.10" y1="154.00" x2="458.60" y2="154.00" stroke="#222" stroke-width="0.9"/>
<path d="M452.60,154.00 L455.20,152.70 L455.20,155.30Z" fill="#222"/>
<line x1="454.10" y1="160.60" x2="458.60" y2="160.60" stroke="#222" stroke-width="0.9"/>
<path d="M452.60,160.60 L455.20,159.30 L455.20,161.90Z" fill="#222"/>
<line x1="454.10" y1="190.40" x2="458.60" y2="190.40" stroke="#222" stroke-width="0.9"/>
<path d="M452.60,190.40 L455.20,189.10 L455.20,191.70Z" fill="#222"/>
<line x1="454.10" y1="216.30" x2="458.60" y2="216.30" stroke="#222" stroke-width="0.9"/>
<path d="M452.60,216.30 L455.20,215.00 L455.20,217.60Z" fill="#222"/>
<line x1="454.10" y1="242.20" x2="458.60" y2="242.20" stroke="#222" stroke-width="0.9"/>
<path d="M452.60,242.20 L455.20,240.90 L455.20,243.50Z" fill="#222"/>
<text x="462.10" y="83.33" font-size="8.2" text-anchor="start" font-weight="normal" fill="#222" textLength="19.20" lengthAdjust="spacingAndGlyphs">MCL1</text>
<text x="462.10" y="103.03" font-size="8.2" text-anchor="start" font-weight="normal" fill="#222" textLength="21.00" lengthAdjust="spacingAndGlyphs">BCL-x</text>
<text x="483.40" y="106.39" font-size="4.6" text-anchor="start" font-weight="normal" fill="#333" textLength="2.40" lengthAdjust="spacingAndGlyphs">L</text>
<text x="462.10" y="126.93" font-size="8.2" text-anchor="start" font-weight="normal" fill="#222" textLength="17.80" lengthAdjust="spacingAndGlyphs">BCL2</text>
<text x="462.10" y="144.63" font-size="8.2" text-anchor="start" font-weight="normal" fill="#222" textLength="12.20" lengthAdjust="spacingAndGlyphs">BIM</text>
<text x="474.60" y="146.99" font-size="4.6" text-anchor="start" font-weight="normal" fill="#333" textLength="5.60" lengthAdjust="spacingAndGlyphs">EL</text>
<text x="462.10" y="155.83" font-size="8.2" text-anchor="start" font-weight="normal" fill="#222" textLength="12.20" lengthAdjust="spacingAndGlyphs">BIM</text>
<text x="474.60" y="157.99" font-size="4.6" text-anchor="start" font-weight="normal" fill="#333" textLength="2.40" lengthAdjust="spacingAndGlyphs">L</text>
<text x="462.10" y="164.63" font-size="8.2" text-anchor="start" font-weight="normal" fill="#222" textLength="12.20" lengthAdjust="spacingAndGlyphs">BIM</text>
<text x="474.60" y="167.19" font-size="4.6" text-anchor="start" font-weight="normal" fill="#333" textLength="2.80" lengthAdjust="spacingAndGlyphs">S</text>
<text x="461.90" y="193.43" font-size="8.2" text-anchor="start" font-weight="normal" fill="#222" textLength="15.10" lengthAdjust="spacingAndGlyphs">BAK</text>
<text x="461.90" y="219.13" font-size="8.2" text-anchor="start" font-weight="normal" fill="#222" textLength="15.10" lengthAdjust="spacingAndGlyphs">BAX</text>
<text x="461.90" y="245.03" font-size="8.2" text-anchor="start" font-weight="normal" fill="#222" textLength="29.70" lengthAdjust="spacingAndGlyphs">&#946;-ACTIN</text>
<text x="6.60" y="171.52" font-size="10.5" text-anchor="start" font-weight="bold" fill="#111" textLength="7.00" lengthAdjust="spacingAndGlyphs" stroke="#111" stroke-width="0.35">D</text>
<line x1="36.80" y1="172.80" x2="36.80" y2="283.40" stroke="#444" stroke-width="1.2"/>
<line x1="33.60" y1="283.00" x2="36.80" y2="283.00" stroke="#444" stroke-width="1"/>
<text x="31.40" y="285.97" font-size="8.6" text-anchor="end" font-weight="normal" fill="#333" textLength="4.10" lengthAdjust="spacingAndGlyphs">0</text>
<line x1="33.60" y1="255.50" x2="36.80" y2="255.50" stroke="#444" stroke-width="1"/>
<text x="31.40" y="258.47" font-size="8.6" text-anchor="end" font-weight="normal" fill="#333" textLength="8.10" lengthAdjust="spacingAndGlyphs">25</text>
<line x1="33.60" y1="228.00" x2="36.80" y2="228.00" stroke="#444" stroke-width="1"/>
<text x="31.40" y="230.97" font-size="8.6" text-anchor="end" font-weight="normal" fill="#333" textLength="8.10" lengthAdjust="spacingAndGlyphs">50</text>
<line x1="33.60" y1="200.50" x2="36.80" y2="200.50" stroke="#444" stroke-width="1"/>
<text x="31.40" y="203.47" font-size="8.6" text-anchor="end" font-weight="normal" fill="#333" textLength="8.10" lengthAdjust="spacingAndGlyphs">75</text>
<line x1="33.60" y1="173.00" x2="36.80" y2="173.00" stroke="#444" stroke-width="1"/>
<text x="31.40" y="175.97" font-size="8.6" text-anchor="end" font-weight="normal" fill="#333" textLength="11.50" lengthAdjust="spacingAndGlyphs">100</text>
<text x="13.10" y="230.05" font-size="7.4" text-anchor="middle" font-weight="normal" fill="#333" textLength="40.70" lengthAdjust="spacingAndGlyphs" transform="rotate(-90 13.10 227.50)">% Apoptosis</text>
<line x1="50.70" y1="283.10" x2="191.50" y2="283.10" stroke="#333" stroke-width="1.1"/>
<line x1="51.20" y1="283.10" x2="51.20" y2="286.30" stroke="#333" stroke-width="1"/>
<line x1="62.67" y1="283.10" x2="62.67" y2="285.10" stroke="#333" stroke-width="1"/>
<line x1="71.57" y1="283.10" x2="71.57" y2="285.10" stroke="#333" stroke-width="1"/>
<line x1="78.83" y1="283.10" x2="78.83" y2="285.10" stroke="#333" stroke-width="1"/>
<line x1="84.98" y1="283.10" x2="84.98" y2="285.10" stroke="#333" stroke-width="1"/>
<line x1="90.30" y1="283.10" x2="90.30" y2="285.10" stroke="#333" stroke-width="1"/>
<line x1="95.00" y1="283.10" x2="95.00" y2="285.10" stroke="#333" stroke-width="1"/>
<line x1="99.20" y1="283.10" x2="99.20" y2="286.30" stroke="#333" stroke-width="1"/>
<line x1="126.83" y1="283.10" x2="126.83" y2="285.10" stroke="#333" stroke-width="1"/>
<line x1="143.00" y1="283.10" x2="143.00" y2="286.30" stroke="#333" stroke-width="1"/>
<line x1="154.47" y1="283.10" x2="154.47" y2="285.10" stroke="#333" stroke-width="1"/>
<line x1="163.37" y1="283.10" x2="163.37" y2="285.10" stroke="#333" stroke-width="1"/>
<line x1="170.63" y1="283.10" x2="170.63" y2="285.10" stroke="#333" stroke-width="1"/>
<line x1="176.78" y1="283.10" x2="176.78" y2="285.10" stroke="#333" stroke-width="1"/>
<line x1="182.10" y1="283.10" x2="182.10" y2="285.10" stroke="#333" stroke-width="1"/>
<line x1="186.80" y1="283.10" x2="186.80" y2="285.10" stroke="#333" stroke-width="1"/>
<line x1="191.00" y1="283.10" x2="191.00" y2="286.30" stroke="#333" stroke-width="1"/>
<line x1="36.80" y1="283.10" x2="44.60" y2="283.10" stroke="#222" stroke-width="1.2"/>
<rect x="37.00" y="283.10" width="7.50" height="2.20" fill="#222"/>
<line x1="51.20" y1="280.40" x2="51.20" y2="285.80" stroke="#333" stroke-width="1.1"/>
<text x="37.00" y="295.27" font-size="8.6" text-anchor="middle" font-weight="normal" fill="#333" textLength="4.00" lengthAdjust="spacingAndGlyphs">0</text>
<text x="51.20" y="295.27" font-size="8.6" text-anchor="middle" font-weight="normal" fill="#333" textLength="4.10" lengthAdjust="spacingAndGlyphs">3</text>
<text x="99.20" y="295.27" font-size="8.6" text-anchor="middle" font-weight="normal" fill="#333" textLength="8.20" lengthAdjust="spacingAndGlyphs">10</text>
<text x="143.00" y="295.27" font-size="8.6" text-anchor="middle" font-weight="normal" fill="#333" textLength="8.20" lengthAdjust="spacingAndGlyphs">30</text>
<text x="191.00" y="295.27" font-size="8.6" text-anchor="middle" font-weight="normal" fill="#333" textLength="12.00" lengthAdjust="spacingAndGlyphs">100</text>
<text x="121.40" y="306.67" font-size="8.6" text-anchor="middle" font-weight="normal" fill="#333" textLength="53.80" lengthAdjust="spacingAndGlyphs">nM, HHT, 48 hrs</text>
<line x1="125.00" y1="260.50" x2="135.50" y2="260.50" stroke="#c8102e" stroke-width="1.4"/>
<path d="M128.30,258.98L132.10,258.98L130.20,262.21Z" fill="#c8102e"/>
<text x="138.20" y="263.36" font-size="8.0" text-anchor="start" font-weight="normal" fill="#333" textLength="32.30" lengthAdjust="spacingAndGlyphs">OCI-AML5</text>
<line x1="125.00" y1="273.00" x2="135.50" y2="273.00" stroke="#0b4f8a" stroke-width="1.4"/>
<rect x="128.40" y="271.20" width="3.60" height="3.60" fill="#0b4f8a"/>
<text x="138.20" y="275.86" font-size="8.0" text-anchor="start" font-weight="normal" fill="#333" textLength="38.00" lengthAdjust="spacingAndGlyphs">Mono-Mac-1</text>
<path d="M51.20,248.66 L53.53,247.51 L55.86,246.26 L58.19,244.88 L60.52,243.39 L62.85,241.77 L65.18,240.03 L67.51,238.16 L69.84,236.17 L72.17,234.06 L74.50,231.85 L76.83,229.53 L79.16,227.12 L81.49,224.64 L83.82,222.10 L86.15,219.53 L88.48,216.93 L90.81,214.34 L93.14,211.78 L95.47,209.26 L97.80,206.79 L100.13,204.41 L102.46,202.12 L104.79,199.93 L107.12,197.85 L109.45,195.90 L111.78,194.06 L114.11,192.36 L116.44,190.77 L118.77,189.31 L121.10,187.98 L123.43,186.75 L125.76,185.63 L128.09,184.62 L130.42,183.70 L132.75,182.88 L135.08,182.13 L137.41,181.46 L139.74,180.86 L142.07,180.33 L144.40,179.85 L146.73,179.42 L149.06,179.04 L151.39,178.70 L153.72,178.40 L156.05,178.13 L158.38,177.89 L160.71,177.68 L163.04,177.50 L165.37,177.33 L167.70,177.19 L170.03,177.06 L172.36,176.94 L174.69,176.84 L177.02,176.75 L179.35,176.67 L181.68,176.60 L184.01,176.54 L186.34,176.49 L188.67,176.44 L191.00,176.40" stroke="#c8102e" stroke-width="1.5" fill="none"/>
<path d="M51.20,270.91 L53.53,270.69 L55.86,270.46 L58.19,270.20 L60.52,269.92 L62.85,269.60 L65.18,269.26 L67.51,268.88 L69.84,268.46 L72.17,268.00 L74.50,267.50 L76.83,266.95 L79.16,266.36 L81.49,265.70 L83.82,264.99 L86.15,264.21 L88.48,263.37 L90.81,262.46 L93.14,261.48 L95.47,260.42 L97.80,259.28 L100.13,258.05 L102.46,256.74 L104.79,255.35 L107.12,253.87 L109.45,252.31 L111.78,250.66 L114.11,248.93 L116.44,247.12 L118.77,245.24 L121.10,243.30 L123.43,241.29 L125.76,239.24 L128.09,237.14 L130.42,235.02 L132.75,232.88 L135.08,230.72 L137.41,228.58 L139.74,226.44 L142.07,224.34 L144.40,222.27 L146.73,220.24 L149.06,218.28 L151.39,216.37 L153.72,214.54 L156.05,212.78 L158.38,211.11 L160.71,209.51 L163.04,208.00 L165.37,206.58 L167.70,205.24 L170.03,203.99 L172.36,202.82 L174.69,201.73 L177.02,200.72 L179.35,199.79 L181.68,198.92 L184.01,198.12 L186.34,197.39 L188.67,196.72 L191.00,196.10" stroke="#0b4f8a" stroke-width="1.5" fill="none"/>
<path d="M69.27,251.16L73.87,251.16L71.57,255.07Z" fill="#c8102e"/>
<path d="M96.90,187.41L101.50,187.41L99.20,191.32Z" fill="#c8102e"/>
<path d="M124.53,175.16L129.13,175.16L126.83,179.07Z" fill="#c8102e"/>
<path d="M161.07,179.41L165.67,179.41L163.37,183.32Z" fill="#c8102e"/>
<path d="M188.70,176.91L193.30,176.91L191.00,180.82Z" fill="#c8102e"/>
<rect x="69.57" y="266.35" width="4.00" height="4.80" fill="#0b4f8a"/>
<rect x="97.20" y="262.10" width="4.00" height="4.80" fill="#0b4f8a"/>
<rect x="124.83" y="232.10" width="4.00" height="4.80" fill="#0b4f8a"/>
<rect x="161.37" y="203.85" width="4.00" height="4.80" fill="#0b4f8a"/>
<rect x="189.00" y="195.60" width="4.00" height="4.80" fill="#0b4f8a"/>
<rect x="35.00" y="270.30" width="4.00" height="4.60" fill="#0b4f8a"/>
<path d="M34.80,273.54L39.20,273.54L37.00,277.28Z" fill="#c8102e"/>
<line x1="37.00" y1="278.40" x2="44.30" y2="278.40" stroke="#0b4f8a" stroke-width="1.3"/>
<line x1="37.00" y1="281.80" x2="44.30" y2="281.80" stroke="#c8102e" stroke-width="1.3"/>
<text x="16.80" y="347.12" font-size="10.5" text-anchor="start" font-weight="bold" fill="#111" textLength="5.20" lengthAdjust="spacingAndGlyphs" stroke="#111" stroke-width="0.35">E</text>
<text x="107.30" y="352.68" font-size="9.8" text-anchor="middle" font-weight="normal" fill="#222" textLength="51.30" lengthAdjust="spacingAndGlyphs">PD AML cells</text>
<path d="M47.20,366.16L51.60,366.16L49.40,362.42Z" fill="#c8102e"/>
<text x="54.80" y="367.02" font-size="7.0" text-anchor="start" font-weight="normal" fill="#333" textLength="46.40" lengthAdjust="spacingAndGlyphs">mtRunx1 N = 9</text>
<rect x="47.50" y="374.50" width="3.80" height="3.80" fill="#0b4f8a"/>
<text x="54.80" y="379.02" font-size="7.0" text-anchor="start" font-weight="normal" fill="#333" textLength="48.20" lengthAdjust="spacingAndGlyphs">wtRunx1 N = 14</text>
<text x="157.80" y="372.41" font-size="9.0" text-anchor="middle" font-weight="normal" fill="#222" textLength="29.30" lengthAdjust="spacingAndGlyphs">p &lt; 0.05</text>
<line x1="36.60" y1="372.30" x2="36.60" y2="482.90" stroke="#444" stroke-width="1.2"/>
<line x1="33.60" y1="482.30" x2="36.60" y2="482.30" stroke="#444" stroke-width="1"/>
<text x="30.90" y="485.27" font-size="8.6" text-anchor="end" font-weight="normal" fill="#333" textLength="4.10" lengthAdjust="spacingAndGlyphs">0</text>
<line x1="33.60" y1="460.36" x2="36.60" y2="460.36" stroke="#444" stroke-width="1"/>
<text x="30.90" y="463.33" font-size="8.6" text-anchor="end" font-weight="normal" fill="#333" textLength="8.10" lengthAdjust="spacingAndGlyphs">20</text>
<line x1="33.60" y1="438.42" x2="36.60" y2="438.42" stroke="#444" stroke-width="1"/>
<text x="30.90" y="441.39" font-size="8.6" text-anchor="end" font-weight="normal" fill="#333" textLength="8.10" lengthAdjust="spacingAndGlyphs">40</text>
<line x1="33.60" y1="416.48" x2="36.60" y2="416.48" stroke="#444" stroke-width="1"/>
<text x="30.90" y="419.45" font-size="8.6" text-anchor="end" font-weight="normal" fill="#333" textLength="8.10" lengthAdjust="spacingAndGlyphs">60</text>
<line x1="33.60" y1="394.54" x2="36.60" y2="394.54" stroke="#444" stroke-width="1"/>
<text x="30.90" y="397.51" font-size="8.6" text-anchor="end" font-weight="normal" fill="#333" textLength="8.10" lengthAdjust="spacingAndGlyphs">80</text>
<line x1="33.60" y1="372.60" x2="36.60" y2="372.60" stroke="#444" stroke-width="1"/>
<text x="30.90" y="375.57" font-size="8.6" text-anchor="end" font-weight="normal" fill="#333" textLength="11.50" lengthAdjust="spacingAndGlyphs">100</text>
<text x="13.30" y="430.83" font-size="8.2" text-anchor="middle" font-weight="normal" fill="#333" textLength="60.20" lengthAdjust="spacingAndGlyphs" transform="rotate(-90 13.30 428.00)">% Non-viable cells</text>
<line x1="36.60" y1="482.60" x2="187.30" y2="482.60" stroke="#333" stroke-width="1.2"/>
<line x1="44.20" y1="482.60" x2="44.20" y2="485.40" stroke="#333" stroke-width="1"/>
<text x="44.20" y="495.34" font-size="8.8" text-anchor="middle" font-weight="normal" fill="#333" textLength="4.20" lengthAdjust="spacingAndGlyphs">0</text>
<line x1="59.20" y1="482.60" x2="59.20" y2="485.40" stroke="#333" stroke-width="1"/>
<text x="59.20" y="495.34" font-size="8.8" text-anchor="middle" font-weight="normal" fill="#333" textLength="8.30" lengthAdjust="spacingAndGlyphs">10</text>
<line x1="74.60" y1="482.60" x2="74.60" y2="485.40" stroke="#333" stroke-width="1"/>
<text x="74.60" y="495.34" font-size="8.8" text-anchor="middle" font-weight="normal" fill="#333" textLength="8.30" lengthAdjust="spacingAndGlyphs">20</text>
<line x1="89.20" y1="482.60" x2="89.20" y2="485.40" stroke="#333" stroke-width="1"/>
<text x="89.20" y="495.34" font-size="8.8" text-anchor="middle" font-weight="normal" fill="#333" textLength="8.30" lengthAdjust="spacingAndGlyphs">50</text>
<line x1="104.60" y1="482.60" x2="104.60" y2="485.40" stroke="#333" stroke-width="1"/>
<text x="104.60" y="495.34" font-size="8.8" text-anchor="middle" font-weight="normal" fill="#333" textLength="12.10" lengthAdjust="spacingAndGlyphs">100</text>
<line x1="119.60" y1="482.60" x2="119.60" y2="485.40" stroke="#333" stroke-width="1"/>
<text x="119.60" y="495.34" font-size="8.8" text-anchor="middle" font-weight="normal" fill="#333" textLength="4.20" lengthAdjust="spacingAndGlyphs">0</text>
<line x1="134.50" y1="482.60" x2="134.50" y2="485.40" stroke="#333" stroke-width="1"/>
<text x="134.50" y="495.34" font-size="8.8" text-anchor="middle" font-weight="normal" fill="#333" textLength="8.30" lengthAdjust="spacingAndGlyphs">10</text>
<line x1="149.50" y1="482.60" x2="149.50" y2="485.40" stroke="#333" stroke-width="1"/>
<text x="149.50" y="495.34" font-size="8.8" text-anchor="middle" font-weight="normal" fill="#333" textLength="8.30" lengthAdjust="spacingAndGlyphs">20</text>
<line x1="164.50" y1="482.60" x2="164.50" y2="485.40" stroke="#333" stroke-width="1"/>
<text x="164.50" y="495.34" font-size="8.8" text-anchor="middle" font-weight="normal" fill="#333" textLength="8.30" lengthAdjust="spacingAndGlyphs">50</text>
<line x1="179.60" y1="482.60" x2="179.60" y2="485.40" stroke="#333" stroke-width="1"/>
<text x="179.60" y="495.34" font-size="8.8" text-anchor="middle" font-weight="normal" fill="#333" textLength="12.10" lengthAdjust="spacingAndGlyphs">100</text>
<text x="112.10" y="508.47" font-size="8.6" text-anchor="middle" font-weight="normal" fill="#333" textLength="56.60" lengthAdjust="spacingAndGlyphs">nM, &#160;HHT, 48 hrs</text>
<path d="M88.7,398.6 L88.7,393.9 L163.4,393.9 L163.4,398.6" stroke="#5a5a5a" stroke-width="1.45" fill="none"/>
<line x1="128.50" y1="393.80" x2="128.50" y2="387.80" stroke="#333" stroke-width="1.1"/>
<polygon points="128.50,382.40 129.07,383.92 130.69,383.99 129.42,385.00 129.85,386.56 128.50,385.67 127.15,386.56 127.58,385.00 126.31,383.99 127.93,383.92" fill="#222"/>
<path d="M73.6,411.8 L73.6,407.4 L150.2,407.4 L150.2,411.8" stroke="#5a5a5a" stroke-width="1.45" fill="none"/>
<line x1="114.60" y1="407.30" x2="114.60" y2="402.30" stroke="#333" stroke-width="1.1"/>
<polygon points="114.60,396.50 115.17,398.02 116.79,398.09 115.52,399.10 115.95,400.66 114.60,399.77 113.25,400.66 113.68,399.10 112.41,398.09 114.03,398.02" fill="#222"/>
<path d="M42.05,463.80L46.55,463.80L44.30,459.98Z" fill="#c8102e"/>
<path d="M43.35,466.30L47.85,466.30L45.60,462.48Z" fill="#c8102e"/>
<path d="M40.95,467.80L45.45,467.80L43.20,463.98Z" fill="#c8102e"/>
<path d="M43.75,469.30L48.25,469.30L46.00,465.48Z" fill="#c8102e"/>
<path d="M40.35,471.60L44.85,471.60L42.60,467.78Z" fill="#c8102e"/>
<path d="M42.95,472.30L47.45,472.30L45.20,468.48Z" fill="#c8102e"/>
<path d="M41.15,474.40L45.65,474.40L43.40,470.58Z" fill="#c8102e"/>
<path d="M43.75,474.40L48.25,474.40L46.00,470.58Z" fill="#c8102e"/>
<path d="M42.25,482.30L46.75,482.30L44.50,478.48Z" fill="#c8102e"/>
<path d="M42.25,469.80L46.75,469.80L44.50,465.98Z" fill="#c8102e"/>
<path d="M55.45,431.50L59.95,431.50L57.70,427.68Z" fill="#c8102e"/>
<path d="M56.95,430.50L61.45,430.50L59.20,426.68Z" fill="#c8102e"/>
<path d="M55.95,433.00L60.45,433.00L58.20,429.18Z" fill="#c8102e"/>
<path d="M58.15,438.70L62.65,438.70L60.40,434.88Z" fill="#c8102e"/>
<path d="M59.95,447.20L64.45,447.20L62.20,443.38Z" fill="#c8102e"/>
<path d="M54.75,451.00L59.25,451.00L57.00,447.18Z" fill="#c8102e"/>
<path d="M56.95,452.50L61.45,452.50L59.20,448.68Z" fill="#c8102e"/>
<path d="M56.95,462.50L61.45,462.50L59.20,458.68Z" fill="#c8102e"/>
<path d="M55.45,468.50L59.95,468.50L57.70,464.68Z" fill="#c8102e"/>
<path d="M58.45,469.40L62.95,469.40L60.70,465.58Z" fill="#c8102e"/>
<path d="M69.35,419.50L73.85,419.50L71.60,415.68Z" fill="#c8102e"/>
<path d="M72.65,422.50L77.15,422.50L74.90,418.68Z" fill="#c8102e"/>
<path d="M75.35,423.60L79.85,423.60L77.60,419.78Z" fill="#c8102e"/>
<path d="M72.35,433.80L76.85,433.80L74.60,429.98Z" fill="#c8102e"/>
<path d="M70.45,441.20L74.95,441.20L72.70,437.38Z" fill="#c8102e"/>
<path d="M71.45,436.70L75.95,436.70L73.70,432.88Z" fill="#c8102e"/>
<path d="M73.45,446.90L77.95,446.90L75.70,443.08Z" fill="#c8102e"/>
<path d="M70.85,453.50L75.35,453.50L73.10,449.68Z" fill="#c8102e"/>
<path d="M73.85,455.00L78.35,455.00L76.10,451.18Z" fill="#c8102e"/>
<path d="M72.35,466.40L76.85,466.40L74.60,462.58Z" fill="#c8102e"/>
<path d="M84.45,413.50L88.95,413.50L86.70,409.68Z" fill="#c8102e"/>
<path d="M86.95,419.50L91.45,419.50L89.20,415.68Z" fill="#c8102e"/>
<path d="M88.95,419.50L93.45,419.50L91.20,415.68Z" fill="#c8102e"/>
<path d="M88.05,420.60L92.55,420.60L90.30,416.78Z" fill="#c8102e"/>
<path d="M85.95,426.30L90.45,426.30L88.20,422.48Z" fill="#c8102e"/>
<path d="M86.95,437.90L91.45,437.90L89.20,434.08Z" fill="#c8102e"/>
<path d="M85.45,448.70L89.95,448.70L87.70,444.88Z" fill="#c8102e"/>
<path d="M88.45,450.20L92.95,450.20L90.70,446.38Z" fill="#c8102e"/>
<path d="M86.95,460.40L91.45,460.40L89.20,456.58Z" fill="#c8102e"/>
<path d="M99.45,417.30L103.95,417.30L101.70,413.48Z" fill="#c8102e"/>
<path d="M104.45,418.50L108.95,418.50L106.70,414.68Z" fill="#c8102e"/>
<path d="M101.95,449.00L106.45,449.00L104.20,445.18Z" fill="#c8102e"/>
<path d="M99.45,455.50L103.95,455.50L101.70,451.68Z" fill="#c8102e"/>
<path d="M104.45,459.20L108.95,459.20L106.70,455.38Z" fill="#c8102e"/>
<rect x="116.75" y="463.85" width="3.90" height="4.30" fill="#0b4f8a"/>
<rect x="118.75" y="463.85" width="3.90" height="4.30" fill="#0b4f8a"/>
<rect x="116.75" y="466.85" width="3.90" height="4.30" fill="#0b4f8a"/>
<rect x="118.75" y="466.85" width="3.90" height="4.30" fill="#0b4f8a"/>
<rect x="115.25" y="470.85" width="3.90" height="4.30" fill="#0b4f8a"/>
<rect x="119.95" y="470.85" width="3.90" height="4.30" fill="#0b4f8a"/>
<rect x="117.55" y="471.35" width="3.90" height="4.30" fill="#0b4f8a"/>
<rect x="116.25" y="474.35" width="3.90" height="4.30" fill="#0b4f8a"/>
<rect x="118.55" y="474.35" width="3.90" height="4.30" fill="#0b4f8a"/>
<rect x="117.25" y="476.85" width="3.90" height="4.30" fill="#0b4f8a"/>
<rect x="118.45" y="478.35" width="3.90" height="4.30" fill="#0b4f8a"/>
<rect x="117.65" y="479.85" width="3.90" height="4.30" fill="#0b4f8a"/>
<rect x="132.55" y="423.95" width="3.90" height="4.30" fill="#0b4f8a"/>
<rect x="132.55" y="440.05" width="3.90" height="4.30" fill="#0b4f8a"/>
<rect x="132.55" y="447.05" width="3.90" height="4.30" fill="#0b4f8a"/>
<rect x="131.55" y="451.95" width="3.90" height="4.30" fill="#0b4f8a"/>
<rect x="134.55" y="453.35" width="3.90" height="4.30" fill="#0b4f8a"/>
<rect x="129.55" y="456.15" width="3.90" height="4.30" fill="#0b4f8a"/>
<rect x="135.55" y="457.55" width="3.90" height="4.30" fill="#0b4f8a"/>
<rect x="129.55" y="460.35" width="3.90" height="4.30" fill="#0b4f8a"/>
<rect x="131.05" y="463.15" width="3.90" height="4.30" fill="#0b4f8a"/>
<rect x="132.05" y="465.25" width="3.90" height="4.30" fill="#0b4f8a"/>
<rect x="133.05" y="468.05" width="3.90" height="4.30" fill="#0b4f8a"/>
<rect x="132.55" y="470.85" width="3.90" height="4.30" fill="#0b4f8a"/>
<rect x="134.05" y="458.95" width="3.90" height="4.30" fill="#0b4f8a"/>
<rect x="147.55" y="429.95" width="3.90" height="4.30" fill="#0b4f8a"/>
<rect x="145.55" y="435.85" width="3.90" height="4.30" fill="#0b4f8a"/>
<rect x="149.55" y="435.55" width="3.90" height="4.30" fill="#0b4f8a"/>
<rect x="147.55" y="437.25" width="3.90" height="4.30" fill="#0b4f8a"/>
<rect x="147.55" y="444.55" width="3.90" height="4.30" fill="#0b4f8a"/>
<rect x="145.05" y="449.85" width="3.90" height="4.30" fill="#0b4f8a"/>
<rect x="150.55" y="451.25" width="3.90" height="4.30" fill="#0b4f8a"/>
<rect x="148.05" y="452.65" width="3.90" height="4.30" fill="#0b4f8a"/>
<rect x="145.55" y="456.55" width="3.90" height="4.30" fill="#0b4f8a"/>
<rect x="148.55" y="458.95" width="3.90" height="4.30" fill="#0b4f8a"/>
<rect x="147.55" y="466.95" width="3.90" height="4.30" fill="#0b4f8a"/>
<rect x="145.55" y="467.35" width="3.90" height="4.30" fill="#0b4f8a"/>
<rect x="149.05" y="467.35" width="3.90" height="4.30" fill="#0b4f8a"/>
<rect x="162.55" y="415.95" width="3.90" height="4.30" fill="#0b4f8a"/>
<rect x="161.55" y="427.45" width="3.90" height="4.30" fill="#0b4f8a"/>
<rect x="163.05" y="433.75" width="3.90" height="4.30" fill="#0b4f8a"/>
<rect x="161.55" y="441.15" width="3.90" height="4.30" fill="#0b4f8a"/>
<rect x="164.05" y="442.55" width="3.90" height="4.30" fill="#0b4f8a"/>
<rect x="160.05" y="445.35" width="3.90" height="4.30" fill="#0b4f8a"/>
<rect x="165.05" y="445.95" width="3.90" height="4.30" fill="#0b4f8a"/>
<rect x="162.05" y="447.35" width="3.90" height="4.30" fill="#0b4f8a"/>
<rect x="160.05" y="449.55" width="3.90" height="4.30" fill="#0b4f8a"/>
<rect x="163.55" y="452.35" width="3.90" height="4.30" fill="#0b4f8a"/>
<rect x="161.05" y="461.05" width="3.90" height="4.30" fill="#0b4f8a"/>
<rect x="162.55" y="465.25" width="3.90" height="4.30" fill="#0b4f8a"/>
<rect x="177.65" y="440.35" width="3.90" height="4.30" fill="#0b4f8a"/>
<rect x="175.55" y="446.35" width="3.90" height="4.30" fill="#0b4f8a"/>
<rect x="178.55" y="447.75" width="3.90" height="4.30" fill="#0b4f8a"/>
<rect x="180.55" y="449.55" width="3.90" height="4.30" fill="#0b4f8a"/>
<rect x="176.05" y="452.35" width="3.90" height="4.30" fill="#0b4f8a"/>
<rect x="176.05" y="456.85" width="3.90" height="4.30" fill="#0b4f8a"/>
<rect x="179.05" y="463.55" width="3.90" height="4.30" fill="#0b4f8a"/>
<line x1="39.00" y1="469.40" x2="49.40" y2="469.40" stroke="#222" stroke-width="1.1"/>
<line x1="54.20" y1="448.40" x2="64.20" y2="448.40" stroke="#222" stroke-width="1.1"/>
<line x1="59.20" y1="443.60" x2="59.20" y2="453.20" stroke="#222" stroke-width="1.0"/>
<line x1="57.00" y1="443.60" x2="61.40" y2="443.60" stroke="#222" stroke-width="1.0"/>
<line x1="57.00" y1="453.20" x2="61.40" y2="453.20" stroke="#222" stroke-width="1.0"/>
<line x1="69.80" y1="437.90" x2="79.40" y2="437.90" stroke="#222" stroke-width="1.1"/>
<line x1="74.60" y1="432.70" x2="74.60" y2="443.60" stroke="#222" stroke-width="1.0"/>
<line x1="72.40" y1="432.70" x2="76.80" y2="432.70" stroke="#222" stroke-width="1.0"/>
<line x1="72.40" y1="443.60" x2="76.80" y2="443.60" stroke="#222" stroke-width="1.0"/>
<line x1="84.20" y1="430.70" x2="94.20" y2="430.70" stroke="#222" stroke-width="1.1"/>
<line x1="89.20" y1="425.20" x2="89.20" y2="436.10" stroke="#222" stroke-width="1.0"/>
<line x1="87.00" y1="425.20" x2="91.40" y2="425.20" stroke="#222" stroke-width="1.0"/>
<line x1="87.00" y1="436.10" x2="91.40" y2="436.10" stroke="#222" stroke-width="1.0"/>
<line x1="99.60" y1="437.60" x2="109.60" y2="437.60" stroke="#222" stroke-width="1.1"/>
<line x1="104.60" y1="428.70" x2="104.60" y2="447.70" stroke="#222" stroke-width="1.0"/>
<line x1="102.40" y1="428.70" x2="106.80" y2="428.70" stroke="#222" stroke-width="1.0"/>
<line x1="102.40" y1="447.70" x2="106.80" y2="447.70" stroke="#222" stroke-width="1.0"/>
<line x1="114.70" y1="472.70" x2="124.50" y2="472.70" stroke="#222" stroke-width="1.1"/>
<line x1="129.40" y1="457.30" x2="139.60" y2="457.30" stroke="#222" stroke-width="1.1"/>
<line x1="134.50" y1="454.50" x2="134.50" y2="460.40" stroke="#222" stroke-width="1.0"/>
<line x1="132.30" y1="454.50" x2="136.70" y2="454.50" stroke="#222" stroke-width="1.0"/>
<line x1="132.30" y1="460.40" x2="136.70" y2="460.40" stroke="#222" stroke-width="1.0"/>
<line x1="144.60" y1="452.00" x2="154.40" y2="452.00" stroke="#222" stroke-width="1.1"/>
<line x1="149.50" y1="449.50" x2="149.50" y2="455.10" stroke="#222" stroke-width="1.0"/>
<line x1="147.30" y1="449.50" x2="151.70" y2="449.50" stroke="#222" stroke-width="1.0"/>
<line x1="147.30" y1="455.10" x2="151.70" y2="455.10" stroke="#222" stroke-width="1.0"/>
<line x1="159.70" y1="446.70" x2="169.30" y2="446.70" stroke="#222" stroke-width="1.1"/>
<line x1="164.50" y1="443.30" x2="164.50" y2="450.30" stroke="#222" stroke-width="1.0"/>
<line x1="162.30" y1="443.30" x2="166.70" y2="443.30" stroke="#222" stroke-width="1.0"/>
<line x1="162.30" y1="450.30" x2="166.70" y2="450.30" stroke="#222" stroke-width="1.0"/>
<line x1="174.70" y1="453.10" x2="184.50" y2="453.10" stroke="#222" stroke-width="1.1"/>
<line x1="179.60" y1="449.90" x2="179.60" y2="456.20" stroke="#222" stroke-width="1.0"/>
<line x1="177.40" y1="449.90" x2="181.80" y2="449.90" stroke="#222" stroke-width="1.0"/>
<line x1="177.40" y1="456.20" x2="181.80" y2="456.20" stroke="#222" stroke-width="1.0"/>
<text x="204.60" y="347.12" font-size="10.5" text-anchor="start" font-weight="bold" fill="#111" textLength="4.90" lengthAdjust="spacingAndGlyphs" stroke="#111" stroke-width="0.35">F</text>
<text x="323.80" y="363.88" font-size="9.8" text-anchor="middle" font-weight="normal" fill="#222" textLength="41.00" lengthAdjust="spacingAndGlyphs">OCI-AML2</text>
<line x1="237.50" y1="372.10" x2="237.50" y2="483.00" stroke="#333" stroke-width="1.1"/>
<line x1="234.20" y1="482.60" x2="237.50" y2="482.60" stroke="#333" stroke-width="1"/>
<text x="231.60" y="485.57" font-size="8.6" text-anchor="end" font-weight="normal" fill="#333" textLength="4.10" lengthAdjust="spacingAndGlyphs">0</text>
<line x1="234.20" y1="455.10" x2="237.50" y2="455.10" stroke="#333" stroke-width="1"/>
<text x="231.60" y="458.07" font-size="8.6" text-anchor="end" font-weight="normal" fill="#333" textLength="8.10" lengthAdjust="spacingAndGlyphs">25</text>
<line x1="234.20" y1="427.60" x2="237.50" y2="427.60" stroke="#333" stroke-width="1"/>
<text x="231.60" y="430.57" font-size="8.6" text-anchor="end" font-weight="normal" fill="#333" textLength="8.10" lengthAdjust="spacingAndGlyphs">50</text>
<line x1="234.20" y1="400.10" x2="237.50" y2="400.10" stroke="#333" stroke-width="1"/>
<text x="231.60" y="403.07" font-size="8.6" text-anchor="end" font-weight="normal" fill="#333" textLength="8.10" lengthAdjust="spacingAndGlyphs">75</text>
<line x1="234.20" y1="372.60" x2="237.50" y2="372.60" stroke="#333" stroke-width="1"/>
<text x="231.60" y="375.57" font-size="8.6" text-anchor="end" font-weight="normal" fill="#333" textLength="11.50" lengthAdjust="spacingAndGlyphs">100</text>
<text x="215.70" y="429.85" font-size="7.4" text-anchor="middle" font-weight="normal" fill="#333" textLength="39.50" lengthAdjust="spacingAndGlyphs" transform="rotate(-90 215.70 427.30)">% Apoptosis</text>
<line x1="251.50" y1="482.70" x2="391.50" y2="482.70" stroke="#333" stroke-width="1.1"/>
<line x1="252.00" y1="482.70" x2="252.00" y2="485.90" stroke="#333" stroke-width="1"/>
<line x1="272.92" y1="482.70" x2="272.92" y2="484.70" stroke="#333" stroke-width="1"/>
<line x1="285.16" y1="482.70" x2="285.16" y2="485.90" stroke="#333" stroke-width="1"/>
<line x1="293.84" y1="482.70" x2="293.84" y2="484.70" stroke="#333" stroke-width="1"/>
<line x1="300.58" y1="482.70" x2="300.58" y2="484.70" stroke="#333" stroke-width="1"/>
<line x1="306.08" y1="482.70" x2="306.08" y2="484.70" stroke="#333" stroke-width="1"/>
<line x1="310.73" y1="482.70" x2="310.73" y2="484.70" stroke="#333" stroke-width="1"/>
<line x1="314.76" y1="482.70" x2="314.76" y2="484.70" stroke="#333" stroke-width="1"/>
<line x1="318.32" y1="482.70" x2="318.32" y2="484.70" stroke="#333" stroke-width="1"/>
<line x1="321.50" y1="482.70" x2="321.50" y2="485.90" stroke="#333" stroke-width="1"/>
<line x1="342.42" y1="482.70" x2="342.42" y2="484.70" stroke="#333" stroke-width="1"/>
<line x1="354.66" y1="482.70" x2="354.66" y2="485.90" stroke="#333" stroke-width="1"/>
<line x1="363.34" y1="482.70" x2="363.34" y2="484.70" stroke="#333" stroke-width="1"/>
<line x1="370.08" y1="482.70" x2="370.08" y2="484.70" stroke="#333" stroke-width="1"/>
<line x1="375.58" y1="482.70" x2="375.58" y2="484.70" stroke="#333" stroke-width="1"/>
<line x1="380.23" y1="482.70" x2="380.23" y2="484.70" stroke="#333" stroke-width="1"/>
<line x1="384.26" y1="482.70" x2="384.26" y2="484.70" stroke="#333" stroke-width="1"/>
<line x1="387.82" y1="482.70" x2="387.82" y2="484.70" stroke="#333" stroke-width="1"/>
<line x1="391.00" y1="482.70" x2="391.00" y2="485.90" stroke="#333" stroke-width="1"/>
<line x1="237.40" y1="482.70" x2="244.60" y2="482.70" stroke="#222" stroke-width="1.2"/>
<line x1="244.50" y1="480.20" x2="244.50" y2="485.20" stroke="#222" stroke-width="1.0"/>
<line x1="239.00" y1="482.70" x2="239.00" y2="484.80" stroke="#222" stroke-width="0.9"/>
<line x1="240.60" y1="482.70" x2="240.60" y2="484.80" stroke="#222" stroke-width="0.9"/>
<line x1="242.00" y1="482.70" x2="242.00" y2="484.80" stroke="#222" stroke-width="0.9"/>
<line x1="243.20" y1="482.70" x2="243.20" y2="484.80" stroke="#222" stroke-width="0.9"/>
<line x1="237.60" y1="482.70" x2="237.60" y2="485.50" stroke="#222" stroke-width="1.0"/>
<line x1="252.00" y1="480.00" x2="252.00" y2="485.50" stroke="#333" stroke-width="1.1"/>
<text x="237.50" y="495.27" font-size="8.6" text-anchor="middle" font-weight="normal" fill="#333" textLength="4.00" lengthAdjust="spacingAndGlyphs">0</text>
<text x="252.00" y="495.27" font-size="8.6" text-anchor="middle" font-weight="normal" fill="#333" textLength="4.10" lengthAdjust="spacingAndGlyphs">1</text>
<text x="285.16" y="495.27" font-size="8.6" text-anchor="middle" font-weight="normal" fill="#333" textLength="4.10" lengthAdjust="spacingAndGlyphs">3</text>
<text x="321.50" y="495.27" font-size="8.6" text-anchor="middle" font-weight="normal" fill="#333" textLength="8.20" lengthAdjust="spacingAndGlyphs">10</text>
<text x="354.66" y="495.27" font-size="8.6" text-anchor="middle" font-weight="normal" fill="#333" textLength="8.20" lengthAdjust="spacingAndGlyphs">30</text>
<text x="391.00" y="495.27" font-size="8.6" text-anchor="middle" font-weight="normal" fill="#333" textLength="12.00" lengthAdjust="spacingAndGlyphs">100</text>
<text x="281.00" y="506.77" font-size="8.6" text-anchor="start" font-weight="normal" fill="#333" textLength="75.20" lengthAdjust="spacingAndGlyphs">nM, Venetoclax, 48 hrs</text>
<line x1="244.80" y1="376.30" x2="255.60" y2="376.30" stroke="#c8102e" stroke-width="1.4"/>
<rect x="248.90" y="374.90" width="2.80" height="2.80" fill="#c8102e"/>
<text x="258.20" y="379.92" font-size="7.0" text-anchor="start" font-weight="normal" fill="#333" textLength="17.00" lengthAdjust="spacingAndGlyphs">Runx1</text>
<text x="275.90" y="377.72" font-size="4.4" text-anchor="start" font-weight="normal" fill="#555" textLength="17.40" lengthAdjust="spacingAndGlyphs">R174*/wt</text>
<line x1="244.80" y1="388.10" x2="255.60" y2="388.10" stroke="#0b4f8a" stroke-width="1.4"/>
<path d="M250.3,386.4 L251.5,388.1 L250.3,389.8 L249.1,388.1Z" fill="#0b4f8a"/>
<text x="258.20" y="391.12" font-size="7.0" text-anchor="start" font-weight="normal" fill="#333" textLength="17.00" lengthAdjust="spacingAndGlyphs">Runx1</text>
<text x="275.90" y="389.02" font-size="4.4" text-anchor="start" font-weight="normal" fill="#555" textLength="11.40" lengthAdjust="spacingAndGlyphs">wt/wt</text>
<text x="283.00" y="420.91" font-size="9.0" text-anchor="middle" font-weight="normal" fill="#222" textLength="31.50" lengthAdjust="spacingAndGlyphs">p &lt; 0.05</text>
<text x="282.40" y="431.71" font-size="9.0" text-anchor="middle" font-weight="normal" fill="#222" textLength="36.00" lengthAdjust="spacingAndGlyphs">(vs wt/wt)</text>
<path d="M252.00,473.26 L254.32,473.08 L256.63,472.88 L258.95,472.66 L261.27,472.42 L263.58,472.16 L265.90,471.87 L268.22,471.56 L270.53,471.22 L272.85,470.85 L275.17,470.44 L277.48,470.01 L279.80,469.53 L282.12,469.02 L284.43,468.47 L286.75,467.87 L289.07,467.24 L291.38,466.56 L293.70,465.83 L296.02,465.06 L298.33,464.25 L300.65,463.39 L302.97,462.49 L305.28,461.54 L307.60,460.56 L309.92,459.54 L312.23,458.49 L314.55,457.42 L316.87,456.32 L319.18,455.20 L321.50,454.07 L323.82,452.93 L326.13,451.79 L328.45,450.66 L330.77,449.54 L333.08,448.44 L335.40,447.36 L337.72,446.30 L340.03,445.28 L342.35,444.29 L344.67,443.34 L346.98,442.44 L349.30,441.57 L351.62,440.75 L353.93,439.97 L356.25,439.24 L358.57,438.55 L360.88,437.91 L363.20,437.31 L365.52,436.75 L367.83,436.23 L370.15,435.75 L372.47,435.31 L374.78,434.90 L377.10,434.52 L379.42,434.18 L381.73,433.86 L384.05,433.57 L386.37,433.31 L388.68,433.06 L391.00,432.84" stroke="#c8102e" stroke-width="1.5" fill="none"/>
<path d="M252.00,477.69 L254.32,477.64 L256.63,477.59 L258.95,477.54 L261.27,477.48 L263.58,477.42 L265.90,477.35 L268.22,477.28 L270.53,477.20 L272.85,477.11 L275.17,477.01 L277.48,476.90 L279.80,476.79 L282.12,476.66 L284.43,476.53 L286.75,476.38 L289.07,476.22 L291.38,476.04 L293.70,475.85 L296.02,475.64 L298.33,475.42 L300.65,475.18 L302.97,474.93 L305.28,474.65 L307.60,474.35 L309.92,474.04 L312.23,473.70 L314.55,473.34 L316.87,472.95 L319.18,472.55 L321.50,472.12 L323.82,471.67 L326.13,471.19 L328.45,470.70 L330.77,470.18 L333.08,469.64 L335.40,469.08 L337.72,468.51 L340.03,467.92 L342.35,467.31 L344.67,466.70 L346.98,466.08 L349.30,465.45 L351.62,464.82 L353.93,464.19 L356.25,463.56 L358.57,462.93 L360.88,462.32 L363.20,461.71 L365.52,461.12 L367.83,460.54 L370.15,459.98 L372.47,459.44 L374.78,458.92 L377.10,458.41 L379.42,457.94 L381.73,457.48 L384.05,457.04 L386.37,456.63 L388.68,456.25 L391.00,455.88" stroke="#0b4f8a" stroke-width="1.5" fill="none"/>
<rect x="298.98" y="461.50" width="3.2" height="4.0" rx="0.6" fill="#c8102e"/>
<line x1="321.50" y1="447.30" x2="321.50" y2="458.20" stroke="#c8102e" stroke-width="1.25"/>
<line x1="319.90" y1="447.30" x2="323.10" y2="447.30" stroke="#c8102e" stroke-width="1.25"/>
<line x1="319.90" y1="458.20" x2="323.10" y2="458.20" stroke="#c8102e" stroke-width="1.25"/>
<rect x="319.90" y="451.10" width="3.2" height="4.0" rx="0.6" fill="#c8102e"/>
<line x1="342.42" y1="441.00" x2="342.42" y2="450.30" stroke="#c8102e" stroke-width="1.25"/>
<line x1="340.82" y1="441.00" x2="344.02" y2="441.00" stroke="#c8102e" stroke-width="1.25"/>
<line x1="340.82" y1="450.30" x2="344.02" y2="450.30" stroke="#c8102e" stroke-width="1.25"/>
<rect x="340.82" y="443.70" width="3.2" height="4.0" rx="0.6" fill="#c8102e"/>
<line x1="370.08" y1="433.00" x2="370.08" y2="443.00" stroke="#c8102e" stroke-width="1.25"/>
<line x1="368.48" y1="433.00" x2="371.68" y2="433.00" stroke="#c8102e" stroke-width="1.25"/>
<line x1="368.48" y1="443.00" x2="371.68" y2="443.00" stroke="#c8102e" stroke-width="1.25"/>
<rect x="368.48" y="435.40" width="3.2" height="4.0" rx="0.6" fill="#c8102e"/>
<line x1="391.00" y1="427.00" x2="391.00" y2="434.50" stroke="#c8102e" stroke-width="1.25"/>
<line x1="389.40" y1="427.00" x2="392.60" y2="427.00" stroke="#c8102e" stroke-width="1.25"/>
<line x1="389.40" y1="434.50" x2="392.60" y2="434.50" stroke="#c8102e" stroke-width="1.25"/>
<rect x="389.40" y="428.70" width="3.2" height="4.0" rx="0.6" fill="#c8102e"/>
<line x1="300.58" y1="471.50" x2="300.58" y2="476.20" stroke="#0b4f8a" stroke-width="1.25"/>
<line x1="298.98" y1="471.50" x2="302.18" y2="471.50" stroke="#0b4f8a" stroke-width="1.25"/>
<line x1="298.98" y1="476.20" x2="302.18" y2="476.20" stroke="#0b4f8a" stroke-width="1.25"/>
<path d="M300.58,473.00 L301.78,474.40 L300.58,475.80 L299.38,474.40Z" fill="#0b4f8a"/>
<path d="M321.50,472.00 L322.70,473.40 L321.50,474.80 L320.30,473.40Z" fill="#0b4f8a"/>
<line x1="342.42" y1="462.50" x2="342.42" y2="470.50" stroke="#0b4f8a" stroke-width="1.25"/>
<line x1="340.82" y1="462.50" x2="344.02" y2="462.50" stroke="#0b4f8a" stroke-width="1.25"/>
<line x1="340.82" y1="470.50" x2="344.02" y2="470.50" stroke="#0b4f8a" stroke-width="1.25"/>
<path d="M342.42,465.50 L343.62,466.90 L342.42,468.30 L341.22,466.90Z" fill="#0b4f8a"/>
<line x1="370.08" y1="455.00" x2="370.08" y2="464.00" stroke="#0b4f8a" stroke-width="1.25"/>
<line x1="368.48" y1="455.00" x2="371.68" y2="455.00" stroke="#0b4f8a" stroke-width="1.25"/>
<line x1="368.48" y1="464.00" x2="371.68" y2="464.00" stroke="#0b4f8a" stroke-width="1.25"/>
<path d="M370.08,458.10 L371.28,459.50 L370.08,460.90 L368.88,459.50Z" fill="#0b4f8a"/>
<line x1="391.00" y1="450.00" x2="391.00" y2="462.00" stroke="#0b4f8a" stroke-width="1.25"/>
<line x1="389.40" y1="450.00" x2="392.60" y2="450.00" stroke="#0b4f8a" stroke-width="1.25"/>
<line x1="389.40" y1="462.00" x2="392.60" y2="462.00" stroke="#0b4f8a" stroke-width="1.25"/>
<path d="M391.00,454.60 L392.20,456.00 L391.00,457.40 L389.80,456.00Z" fill="#0b4f8a"/>
<circle cx="237.2" cy="475.6" r="1.7" fill="#c8102e"/>
<line x1="237.20" y1="475.60" x2="244.40" y2="475.60" stroke="#c8102e" stroke-width="1.3"/>
<circle cx="237.2" cy="478.3" r="1.4" fill="#0b4f8a"/>
<line x1="237.20" y1="478.30" x2="244.40" y2="478.30" stroke="#0b4f8a" stroke-width="1.3"/>
<polygon points="342.60,433.60 343.32,435.51 345.36,435.60 343.76,436.88 344.30,438.85 342.60,437.72 340.90,438.85 341.44,436.88 339.84,435.60 341.88,435.51" fill="#222"/>
<polygon points="370.30,425.90 371.02,427.81 373.06,427.90 371.46,429.18 372.00,431.15 370.30,430.02 368.60,431.15 369.14,429.18 367.54,427.90 369.58,427.81" fill="#222"/>
<polygon points="391.50,420.10 392.22,422.01 394.26,422.10 392.66,423.38 393.20,425.35 391.50,424.22 389.80,425.35 390.34,423.38 388.74,422.10 390.78,422.01" fill="#222"/>
<text x="398.70" y="279.52" font-size="10.5" text-anchor="start" font-weight="bold" fill="#111" textLength="6.70" lengthAdjust="spacingAndGlyphs" stroke="#111" stroke-width="0.35">G</text>
<text x="447.30" y="283.50" font-size="11.6" text-anchor="middle" font-weight="normal" fill="#111" textLength="49.20" lengthAdjust="spacingAndGlyphs">OCI-AML2</text>
<text x="420.70" y="296.90" font-size="11.6" text-anchor="start" font-weight="normal" fill="#111" textLength="26.60" lengthAdjust="spacingAndGlyphs">Runx1</text>
<text x="448.90" y="292.87" font-size="6.0" text-anchor="start" font-weight="normal" fill="#333" textLength="25.10" lengthAdjust="spacingAndGlyphs">R174*/wt</text>
<line x1="426.10" y1="299.30" x2="469.90" y2="299.30" stroke="#111" stroke-width="1.4"/>
<text x="436.12" y="319.1" font-size="10.2" fill="#111" textLength="16.7" lengthAdjust="spacingAndGlyphs" transform="rotate(-90 436.12 319.1)">Ctrl</text>
<text x="451.22" y="319.1" font-size="10.2" fill="#111" textLength="10.7" lengthAdjust="spacingAndGlyphs" transform="rotate(-90 451.22 319.1)">20</text>
<text x="466.42" y="319.1" font-size="10.2" fill="#111" textLength="16.7" lengthAdjust="spacingAndGlyphs" transform="rotate(-90 466.42 319.1)">100</text>
<text x="482.60" y="306.37" font-size="8.6" text-anchor="start" font-weight="normal" fill="#222" textLength="28.90" lengthAdjust="spacingAndGlyphs">nM, Ven</text>
<text x="482.60" y="316.47" font-size="8.6" text-anchor="start" font-weight="normal" fill="#222" textLength="16.80" lengthAdjust="spacingAndGlyphs">18 hr</text>
<rect x="422.80" y="321.90" width="49.60" height="20.70" fill="#151515"/>
<rect x="424.10" y="323.20" width="47.00" height="18.10" fill="#cecece"/>
<rect x="425.75" y="323.20" width="12.50" height="18.10" fill="#aaa" opacity="0.2" filter="url(#b08)"/>
<rect x="441.25" y="323.20" width="12.50" height="18.10" fill="#aaa" opacity="0.2" filter="url(#b08)"/>
<rect x="456.75" y="323.20" width="12.50" height="18.10" fill="#aaa" opacity="0.2" filter="url(#b08)"/>
<svg x="424.10" y="323.20" width="47.00" height="18.10" viewBox="424.10 323.20 47.00 18.10" overflow="hidden">
<rect x="425.75" y="331.30" width="12.50" height="2.40" rx="1.00" fill="#000" opacity="0.62" filter="url(#b05)"/>
<rect x="441.25" y="331.30" width="12.50" height="2.40" rx="1.00" fill="#000" opacity="0.95" filter="url(#b05)"/>
<rect x="456.75" y="331.30" width="12.50" height="2.40" rx="1.00" fill="#000" opacity="0.85" filter="url(#b05)"/>
</svg>
<rect x="423.45" y="322.55" width="48.30" height="19.40" fill="none" stroke="#151515" stroke-width="1.3"/>
<rect x="422.80" y="345.00" width="49.60" height="20.90" fill="#151515"/>
<rect x="424.10" y="346.30" width="47.00" height="18.30" fill="#c6c6c6"/>
<rect x="425.75" y="346.30" width="12.50" height="18.30" fill="#999" opacity="0.3" filter="url(#b08)"/>
<rect x="441.25" y="346.30" width="12.50" height="18.30" fill="#999" opacity="0.3" filter="url(#b08)"/>
<rect x="456.75" y="346.30" width="12.50" height="18.30" fill="#999" opacity="0.3" filter="url(#b08)"/>
<svg x="424.10" y="346.30" width="47.00" height="18.30" viewBox="424.10 346.30 47.00 18.30" overflow="hidden">
<rect x="425.75" y="354.10" width="12.50" height="3.00" rx="1.00" fill="#000" opacity="0.85" filter="url(#b05)"/>
<rect x="441.25" y="354.10" width="12.50" height="3.00" rx="1.00" fill="#000" opacity="0.95" filter="url(#b05)"/>
<rect x="456.75" y="354.10" width="12.50" height="3.00" rx="1.00" fill="#000" opacity="0.85" filter="url(#b05)"/>
<rect x="425.75" y="349.00" width="12.50" height="4.00" rx="1.00" fill="#000" opacity="0.15" filter="url(#b12)"/>
<rect x="441.25" y="349.00" width="12.50" height="4.00" rx="1.00" fill="#000" opacity="0.15" filter="url(#b12)"/>
<rect x="456.75" y="349.00" width="12.50" height="4.00" rx="1.00" fill="#000" opacity="0.15" filter="url(#b12)"/>
<rect x="425.75" y="359.00" width="12.50" height="4.00" rx="1.00" fill="#000" opacity="0.1" filter="url(#b12)"/>
<rect x="441.25" y="359.00" width="12.50" height="4.00" rx="1.00" fill="#000" opacity="0.1" filter="url(#b12)"/>
<rect x="456.75" y="359.00" width="12.50" height="4.00" rx="1.00" fill="#000" opacity="0.1" filter="url(#b12)"/>
</svg>
<rect x="423.45" y="345.65" width="48.30" height="19.60" fill="none" stroke="#151515" stroke-width="1.3"/>
<circle cx="455" cy="349" r="1.2" fill="#222" filter="url(#b05)"/>
<rect x="422.80" y="368.50" width="49.60" height="20.70" fill="#151515"/>
<rect x="424.10" y="369.80" width="47.00" height="18.10" fill="#cecece"/>
<svg x="424.10" y="369.80" width="47.00" height="18.10" viewBox="424.10 369.80 47.00 18.10" overflow="hidden">
<rect x="425.40" y="378.30" width="13.20" height="3.40" rx="1.00" fill="#000" opacity="1.0" filter="url(#b05)"/>
<rect x="440.90" y="378.30" width="13.20" height="3.40" rx="1.00" fill="#000" opacity="1.0" filter="url(#b05)"/>
<rect x="456.40" y="378.30" width="13.20" height="3.40" rx="1.00" fill="#000" opacity="1.0" filter="url(#b05)"/>
</svg>
<rect x="423.45" y="369.15" width="48.30" height="19.40" fill="none" stroke="#151515" stroke-width="1.3"/>
<rect x="422.80" y="392.10" width="49.60" height="39.90" fill="#151515"/>
<rect x="424.10" y="393.40" width="47.00" height="37.30" fill="#cdcdcd"/>
<svg x="424.10" y="393.40" width="47.00" height="37.30" viewBox="424.10 393.40 47.00 37.30" overflow="hidden">
<rect x="426.00" y="400.60" width="12.00" height="3.00" rx="1.00" fill="#000" opacity="1.0" filter="url(#b05)"/>
<rect x="441.50" y="400.60" width="12.00" height="3.00" rx="1.00" fill="#000" opacity="1.0" filter="url(#b05)"/>
<rect x="457.00" y="400.60" width="12.00" height="3.00" rx="1.00" fill="#000" opacity="1.0" filter="url(#b05)"/>
<rect x="426.00" y="405.85" width="12.00" height="3.50" rx="1.00" fill="#000" opacity="0.18" filter="url(#b08)"/>
<rect x="441.50" y="405.85" width="12.00" height="3.50" rx="1.00" fill="#000" opacity="0.18" filter="url(#b08)"/>
<rect x="457.00" y="405.85" width="12.00" height="3.50" rx="1.00" fill="#000" opacity="0.18" filter="url(#b08)"/>
<rect x="426.00" y="413.70" width="12.00" height="3.40" rx="1.00" fill="#000" opacity="1.0" filter="url(#b05)"/>
<rect x="441.50" y="413.70" width="12.00" height="3.40" rx="1.00" fill="#000" opacity="1.0" filter="url(#b05)"/>
<rect x="457.00" y="413.70" width="12.00" height="3.40" rx="1.00" fill="#000" opacity="1.0" filter="url(#b05)"/>
<rect x="426.00" y="419.70" width="12.00" height="3.00" rx="1.00" fill="#000" opacity="1.0" filter="url(#b05)"/>
<rect x="441.50" y="419.70" width="12.00" height="3.00" rx="1.00" fill="#000" opacity="1.0" filter="url(#b05)"/>
<rect x="457.00" y="419.70" width="12.00" height="3.00" rx="1.00" fill="#000" opacity="1.0" filter="url(#b05)"/>
</svg>
<rect x="423.45" y="392.75" width="48.30" height="38.60" fill="none" stroke="#151515" stroke-width="1.3"/>
<rect x="422.80" y="435.00" width="49.60" height="21.00" fill="#151515"/>
<rect x="424.10" y="436.30" width="47.00" height="18.40" fill="#cdcdcd"/>
<svg x="424.10" y="436.30" width="47.00" height="18.40" viewBox="424.10 436.30 47.00 18.40" overflow="hidden">
<rect x="425.00" y="444.30" width="14.00" height="5.00" rx="1.00" fill="#000" opacity="1.0" filter="url(#b05)"/>
<rect x="440.50" y="444.30" width="14.00" height="5.00" rx="1.00" fill="#000" opacity="1.0" filter="url(#b05)"/>
<rect x="456.00" y="444.30" width="14.00" height="5.00" rx="1.00" fill="#000" opacity="1.0" filter="url(#b05)"/>
</svg>
<rect x="423.45" y="435.65" width="48.30" height="19.70" fill="none" stroke="#151515" stroke-width="1.3"/>
<rect x="422.80" y="459.20" width="49.60" height="20.80" fill="#151515"/>
<rect x="424.10" y="460.50" width="47.00" height="18.20" fill="#b6b6b6"/>
<rect x="425.50" y="460.50" width="13.00" height="18.20" fill="#888" opacity="0.35" filter="url(#b08)"/>
<rect x="441.00" y="460.50" width="13.00" height="18.20" fill="#888" opacity="0.3" filter="url(#b08)"/>
<rect x="456.50" y="460.50" width="13.00" height="18.20" fill="#888" opacity="0.3" filter="url(#b08)"/>
<svg x="424.10" y="460.50" width="47.00" height="18.20" viewBox="424.10 460.50 47.00 18.20" overflow="hidden">
<rect x="425.50" y="468.70" width="13.00" height="2.20" rx="1.00" fill="#000" opacity="0.62" filter="url(#b05)"/>
<rect x="441.00" y="468.70" width="13.00" height="2.20" rx="1.00" fill="#000" opacity="0.6" filter="url(#b05)"/>
<rect x="456.50" y="468.70" width="13.00" height="2.20" rx="1.00" fill="#000" opacity="0.55" filter="url(#b05)"/>
</svg>
<rect x="423.45" y="459.85" width="48.30" height="19.50" fill="none" stroke="#151515" stroke-width="1.3"/>
<ellipse cx="459.5" cy="469.6" rx="2.6" ry="1.9" fill="#111" opacity="0.85" filter="url(#b05)"/>
<ellipse cx="439.5" cy="474" rx="2.5" ry="2" fill="#eee" opacity="0.6" filter="url(#b08)"/>
<ellipse cx="448" cy="463.5" rx="2" ry="1.5" fill="#555" opacity="0.4" filter="url(#b08)"/>
<ellipse cx="462" cy="476.5" rx="1.2" ry="1.2" fill="#222" opacity="0.6" filter="url(#b05)"/>
<rect x="422.80" y="483.00" width="49.60" height="20.50" fill="#151515"/>
<rect x="424.10" y="484.30" width="47.00" height="17.90" fill="#cdcdcd"/>
<svg x="424.10" y="484.30" width="47.00" height="17.90" viewBox="424.10 484.30 47.00 17.90" overflow="hidden">
<rect x="425.50" y="492.80" width="13.00" height="3.00" rx="1.00" fill="#000" opacity="1.0" filter="url(#b05)"/>
<rect x="441.00" y="492.80" width="13.00" height="3.00" rx="1.00" fill="#000" opacity="1.0" filter="url(#b05)"/>
<rect x="456.50" y="492.80" width="13.00" height="3.00" rx="1.00" fill="#000" opacity="1.0" filter="url(#b05)"/>
<rect x="425.50" y="497.80" width="13.00" height="2.00" rx="1.00" fill="#000" opacity="0.12" filter="url(#b08)"/>
<rect x="441.00" y="497.80" width="13.00" height="2.00" rx="1.00" fill="#000" opacity="0.12" filter="url(#b08)"/>
<rect x="456.50" y="497.80" width="13.00" height="2.00" rx="1.00" fill="#000" opacity="0.12" filter="url(#b08)"/>
</svg>
<rect x="423.45" y="483.65" width="48.30" height="19.20" fill="none" stroke="#151515" stroke-width="1.3"/>
<rect x="422.80" y="506.90" width="49.60" height="20.70" fill="#151515"/>
<rect x="424.10" y="508.20" width="47.00" height="18.10" fill="#cdcdcd"/>
<svg x="424.10" y="508.20" width="47.00" height="18.10" viewBox="424.10 508.20 47.00 18.10" overflow="hidden">
<rect x="424.90" y="515.50" width="14.20" height="4.60" rx="1.00" fill="#000" opacity="1.0" filter="url(#b05)"/>
<rect x="440.40" y="515.50" width="14.20" height="4.60" rx="1.00" fill="#000" opacity="1.0" filter="url(#b05)"/>
<rect x="455.90" y="515.50" width="14.20" height="4.60" rx="1.00" fill="#000" opacity="1.0" filter="url(#b05)"/>
</svg>
<rect x="423.45" y="507.55" width="48.30" height="19.40" fill="none" stroke="#151515" stroke-width="1.3"/>
<line x1="475.60" y1="332.30" x2="480.30" y2="332.30" stroke="#222" stroke-width="0.9"/>
<path d="M474.10,332.30 L476.70,331.00 L476.70,333.60Z" fill="#222"/>
<line x1="475.60" y1="355.20" x2="480.30" y2="355.20" stroke="#222" stroke-width="0.9"/>
<path d="M474.10,355.20 L476.70,353.90 L476.70,356.50Z" fill="#222"/>
<line x1="475.60" y1="379.70" x2="480.30" y2="379.70" stroke="#222" stroke-width="0.9"/>
<path d="M474.10,379.70 L476.70,378.40 L476.70,381.00Z" fill="#222"/>
<line x1="475.60" y1="400.90" x2="480.30" y2="400.90" stroke="#222" stroke-width="0.9"/>
<path d="M474.10,400.90 L476.70,399.60 L476.70,402.20Z" fill="#222"/>
<line x1="475.60" y1="414.70" x2="480.30" y2="414.70" stroke="#222" stroke-width="0.9"/>
<path d="M474.10,414.70 L476.70,413.40 L476.70,416.00Z" fill="#222"/>
<line x1="475.60" y1="420.60" x2="480.30" y2="420.60" stroke="#222" stroke-width="0.9"/>
<path d="M474.10,420.60 L476.70,419.30 L476.70,421.90Z" fill="#222"/>
<line x1="475.60" y1="446.50" x2="480.30" y2="446.50" stroke="#222" stroke-width="0.9"/>
<path d="M474.10,446.50 L476.70,445.20 L476.70,447.80Z" fill="#222"/>
<line x1="475.60" y1="469.60" x2="480.30" y2="469.60" stroke="#222" stroke-width="0.9"/>
<path d="M474.10,469.60 L476.70,468.30 L476.70,470.90Z" fill="#222"/>
<line x1="475.60" y1="493.50" x2="480.30" y2="493.50" stroke="#222" stroke-width="0.9"/>
<path d="M474.10,493.50 L476.70,492.20 L476.70,494.80Z" fill="#222"/>
<line x1="475.60" y1="515.90" x2="480.30" y2="515.90" stroke="#222" stroke-width="0.9"/>
<path d="M474.10,515.90 L476.70,514.60 L476.70,517.20Z" fill="#222"/>
<text x="482.80" y="334.60" font-size="8.4" text-anchor="start" font-weight="normal" fill="#222" textLength="19.70" lengthAdjust="spacingAndGlyphs">MCL1</text>
<text x="482.80" y="358.30" font-size="8.4" text-anchor="start" font-weight="normal" fill="#222" textLength="20.50" lengthAdjust="spacingAndGlyphs">BCL-x</text>
<text x="503.60" y="361.26" font-size="4.8" text-anchor="start" font-weight="normal" fill="#333" textLength="2.50" lengthAdjust="spacingAndGlyphs">L</text>
<text x="482.80" y="382.60" font-size="8.4" text-anchor="start" font-weight="normal" fill="#222" textLength="18.10" lengthAdjust="spacingAndGlyphs">BCL2</text>
<text x="482.80" y="402.50" font-size="8.4" text-anchor="start" font-weight="normal" fill="#222" textLength="12.50" lengthAdjust="spacingAndGlyphs">BIM</text>
<text x="495.50" y="405.46" font-size="4.8" text-anchor="start" font-weight="normal" fill="#333" textLength="5.80" lengthAdjust="spacingAndGlyphs">EL</text>
<text x="482.80" y="415.10" font-size="8.4" text-anchor="start" font-weight="normal" fill="#222" textLength="12.50" lengthAdjust="spacingAndGlyphs">BIM</text>
<text x="495.50" y="417.46" font-size="4.8" text-anchor="start" font-weight="normal" fill="#333" textLength="2.50" lengthAdjust="spacingAndGlyphs">L</text>
<text x="482.80" y="424.30" font-size="8.4" text-anchor="start" font-weight="normal" fill="#222" textLength="12.50" lengthAdjust="spacingAndGlyphs">BIM</text>
<text x="495.50" y="427.46" font-size="4.8" text-anchor="start" font-weight="normal" fill="#333" textLength="2.90" lengthAdjust="spacingAndGlyphs">S</text>
<text x="482.70" y="449.00" font-size="8.4" text-anchor="start" font-weight="normal" fill="#222" textLength="22.20" lengthAdjust="spacingAndGlyphs">NOXA</text>
<text x="482.70" y="472.50" font-size="8.4" text-anchor="start" font-weight="normal" fill="#222" textLength="14.80" lengthAdjust="spacingAndGlyphs">BAK</text>
<text x="482.70" y="496.00" font-size="8.4" text-anchor="start" font-weight="normal" fill="#222" textLength="14.80" lengthAdjust="spacingAndGlyphs">BAX</text>
<text x="482.70" y="518.80" font-size="8.4" text-anchor="start" font-weight="normal" fill="#222" textLength="30.00" lengthAdjust="spacingAndGlyphs">&#946;-ACTIN</text>
<rect x="0" y="0" width="520" height="1.2" fill="#151214"/>
<rect x="0" y="0" width="1.1" height="535" fill="#151214"/>
<rect x="518.7" y="0" width="1.3" height="535" fill="#151214"/>
<rect x="0" y="533.6" width="520" height="1.4" fill="#151214"/>
</svg>
</body></html>
